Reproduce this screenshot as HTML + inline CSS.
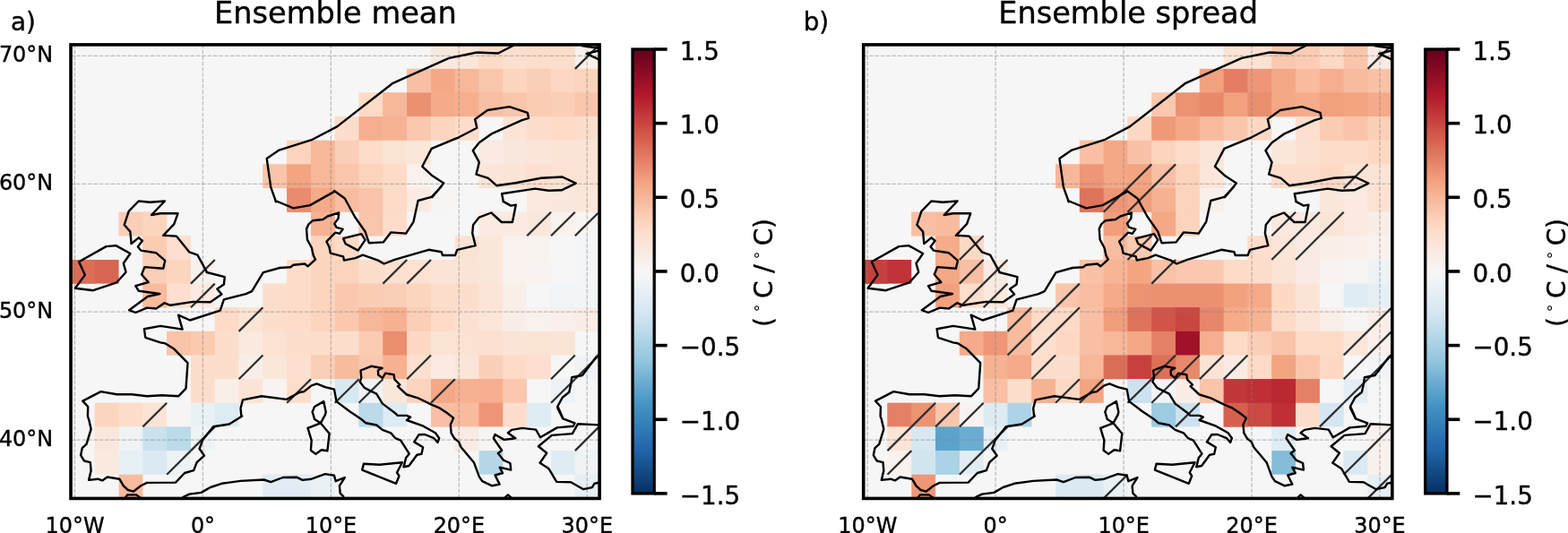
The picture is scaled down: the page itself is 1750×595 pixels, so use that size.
<!DOCTYPE html>
<html lang="en"><head><meta charset="utf-8"><title>Ensemble mean and spread</title>
<style>html,body{margin:0;padding:0;background:#fff}body{width:1750px;height:595px;overflow:hidden}svg{display:block}text{font-family:"DejaVu Sans","Liberation Sans",sans-serif;fill:#000;stroke:#000;stroke-width:0.4px;stroke-linejoin:round}</style>
</head><body>
<svg width="1750" height="595" viewBox="0 0 1750 595">
<rect width="1750" height="595" fill="#fff"/>
<defs>
<linearGradient id="cb" x1="0" y1="0" x2="0" y2="1"><stop offset="0.0000" stop-color="#67001f"/><stop offset="0.0156" stop-color="#700320"/><stop offset="0.0312" stop-color="#7c0722"/><stop offset="0.0469" stop-color="#870a24"/><stop offset="0.0625" stop-color="#930e26"/><stop offset="0.0781" stop-color="#9f1228"/><stop offset="0.0938" stop-color="#ab162a"/><stop offset="0.1094" stop-color="#b41c2d"/><stop offset="0.1250" stop-color="#ba2832"/><stop offset="0.1406" stop-color="#bf3338"/><stop offset="0.1562" stop-color="#c53e3d"/><stop offset="0.1719" stop-color="#cb4942"/><stop offset="0.1875" stop-color="#d05548"/><stop offset="0.2031" stop-color="#d6604d"/><stop offset="0.2188" stop-color="#db6b55"/><stop offset="0.2344" stop-color="#df765e"/><stop offset="0.2500" stop-color="#e48066"/><stop offset="0.2656" stop-color="#e98b6e"/><stop offset="0.2812" stop-color="#ee9677"/><stop offset="0.2969" stop-color="#f2a17f"/><stop offset="0.3125" stop-color="#f5aa89"/><stop offset="0.3281" stop-color="#f6b394"/><stop offset="0.3438" stop-color="#f8bb9e"/><stop offset="0.3594" stop-color="#f9c4a9"/><stop offset="0.3750" stop-color="#fbccb4"/><stop offset="0.3906" stop-color="#fcd5bf"/><stop offset="0.4062" stop-color="#fddcc9"/><stop offset="0.4219" stop-color="#fce0d0"/><stop offset="0.4375" stop-color="#fbe5d8"/><stop offset="0.4531" stop-color="#fae9df"/><stop offset="0.4688" stop-color="#f9eee7"/><stop offset="0.4844" stop-color="#f8f2ef"/><stop offset="0.5000" stop-color="#f7f6f6"/><stop offset="0.5156" stop-color="#f2f5f6"/><stop offset="0.5312" stop-color="#ecf2f5"/><stop offset="0.5469" stop-color="#e6eff4"/><stop offset="0.5625" stop-color="#e0ecf3"/><stop offset="0.5781" stop-color="#dae9f2"/><stop offset="0.5938" stop-color="#d4e6f1"/><stop offset="0.6094" stop-color="#cce2ef"/><stop offset="0.6250" stop-color="#c2ddec"/><stop offset="0.6406" stop-color="#b8d8e9"/><stop offset="0.6562" stop-color="#aed3e6"/><stop offset="0.6719" stop-color="#a5cee3"/><stop offset="0.6875" stop-color="#9bc9e0"/><stop offset="0.7031" stop-color="#90c4dd"/><stop offset="0.7188" stop-color="#84bcd9"/><stop offset="0.7344" stop-color="#78b4d5"/><stop offset="0.7500" stop-color="#6bacd1"/><stop offset="0.7656" stop-color="#5fa5cd"/><stop offset="0.7812" stop-color="#529dc8"/><stop offset="0.7969" stop-color="#4695c4"/><stop offset="0.8125" stop-color="#3f8ec0"/><stop offset="0.8281" stop-color="#3a87bd"/><stop offset="0.8438" stop-color="#3480b9"/><stop offset="0.8594" stop-color="#2f79b5"/><stop offset="0.8750" stop-color="#2a71b2"/><stop offset="0.8906" stop-color="#246aae"/><stop offset="0.9062" stop-color="#1f63a8"/><stop offset="0.9219" stop-color="#1b5a9c"/><stop offset="0.9375" stop-color="#175290"/><stop offset="0.9531" stop-color="#124984"/><stop offset="0.9688" stop-color="#0e4179"/><stop offset="0.9844" stop-color="#09386d"/><stop offset="1.0000" stop-color="#053061"/></linearGradient>
<clipPath id="clip"><rect x="79.00" y="49.90" width="590.10" height="506.55"/></clipPath>
</defs>
<g transform="translate(0.0,0)">
<rect x="79.00" y="49.90" width="590.10" height="506.55" fill="#f6f6f6"/>
<g clip-path="url(#clip)">
<g>
<rect x="481.00" y="50.25" width="27.50" height="27.34" fill="#fae9df"/>
<rect x="507.80" y="50.25" width="27.50" height="27.34" fill="#fbe6da"/>
<rect x="534.60" y="50.25" width="27.50" height="27.34" fill="#fddbc7"/>
<rect x="561.40" y="50.25" width="27.50" height="27.34" fill="#fcdfcf"/>
<rect x="588.20" y="50.25" width="27.50" height="27.34" fill="#fdddcb"/>
<rect x="615.00" y="50.25" width="27.50" height="27.34" fill="#fdddcb"/>
<rect x="641.80" y="50.25" width="26.80" height="27.34" fill="#f9f0eb"/>
<rect x="454.20" y="76.89" width="27.50" height="27.34" fill="#f8bfa4"/>
<rect x="481.00" y="76.89" width="27.50" height="27.34" fill="#f5a886"/>
<rect x="507.80" y="76.89" width="27.50" height="27.34" fill="#f7b799"/>
<rect x="534.60" y="76.89" width="27.50" height="27.34" fill="#f9c6ac"/>
<rect x="561.40" y="76.89" width="27.50" height="27.34" fill="#fcd5bf"/>
<rect x="588.20" y="76.89" width="27.50" height="27.34" fill="#fbceb7"/>
<rect x="615.00" y="76.89" width="27.50" height="27.34" fill="#fcd7c2"/>
<rect x="641.80" y="76.89" width="26.80" height="27.34" fill="#fcd3bc"/>
<rect x="400.60" y="103.52" width="27.50" height="27.34" fill="#fddbc7"/>
<rect x="427.40" y="103.52" width="27.50" height="27.34" fill="#f7b799"/>
<rect x="454.20" y="103.52" width="27.50" height="27.34" fill="#eb9172"/>
<rect x="481.00" y="103.52" width="27.50" height="27.34" fill="#f5aa89"/>
<rect x="507.80" y="103.52" width="27.50" height="27.34" fill="#f6af8e"/>
<rect x="534.60" y="103.52" width="27.50" height="26.64" fill="#f8bfa4"/>
<rect x="561.40" y="103.52" width="27.50" height="27.34" fill="#f9c6ac"/>
<rect x="588.20" y="103.52" width="27.50" height="27.34" fill="#fbccb4"/>
<rect x="615.00" y="103.52" width="27.50" height="27.34" fill="#fbceb7"/>
<rect x="641.80" y="103.52" width="26.80" height="27.34" fill="#f9c6ac"/>
<rect x="373.80" y="130.16" width="27.50" height="27.34" fill="#fdddcb"/>
<rect x="400.60" y="130.16" width="27.50" height="27.34" fill="#f6af8e"/>
<rect x="427.40" y="130.16" width="27.50" height="27.34" fill="#f6b394"/>
<rect x="454.20" y="130.16" width="27.50" height="27.34" fill="#fac8af"/>
<rect x="481.00" y="130.16" width="27.50" height="26.64" fill="#fcd5bf"/>
<rect x="561.40" y="130.16" width="27.50" height="27.34" fill="#fbe4d6"/>
<rect x="588.20" y="130.16" width="27.50" height="27.34" fill="#fdddcb"/>
<rect x="615.00" y="130.16" width="27.50" height="27.34" fill="#fddbc7"/>
<rect x="641.80" y="130.16" width="26.80" height="27.34" fill="#fcdecd"/>
<rect x="320.20" y="156.80" width="27.50" height="27.34" fill="#fcd3bc"/>
<rect x="347.00" y="156.80" width="27.50" height="27.34" fill="#f7b799"/>
<rect x="373.80" y="156.80" width="27.50" height="27.34" fill="#fbceb7"/>
<rect x="400.60" y="156.80" width="27.50" height="27.34" fill="#fddcc9"/>
<rect x="427.40" y="156.80" width="27.50" height="27.34" fill="#fbe3d4"/>
<rect x="454.20" y="156.80" width="26.80" height="27.34" fill="#fbe6da"/>
<rect x="534.60" y="156.80" width="27.50" height="27.34" fill="#faeae1"/>
<rect x="561.40" y="156.80" width="27.50" height="27.34" fill="#fae8de"/>
<rect x="588.20" y="156.80" width="27.50" height="27.34" fill="#fbe5d8"/>
<rect x="615.00" y="156.80" width="27.50" height="27.34" fill="#fbe4d6"/>
<rect x="641.80" y="156.80" width="26.80" height="27.34" fill="#fbe4d6"/>
<rect x="293.40" y="183.44" width="27.50" height="26.64" fill="#f9c4a9"/>
<rect x="320.20" y="183.44" width="27.50" height="27.34" fill="#f3a481"/>
<rect x="347.00" y="183.44" width="27.50" height="27.34" fill="#f7b799"/>
<rect x="373.80" y="183.44" width="27.50" height="27.34" fill="#f9c6ac"/>
<rect x="400.60" y="183.44" width="27.50" height="27.34" fill="#fcd3bc"/>
<rect x="427.40" y="183.44" width="27.50" height="27.34" fill="#fddbc7"/>
<rect x="454.20" y="183.44" width="26.80" height="27.34" fill="#f8f1ed"/>
<rect x="534.60" y="183.44" width="27.50" height="26.64" fill="#fbe5d8"/>
<rect x="561.40" y="183.44" width="27.50" height="26.64" fill="#fbe4d6"/>
<rect x="588.20" y="183.44" width="27.50" height="27.34" fill="#fcdfcf"/>
<rect x="615.00" y="183.44" width="27.50" height="27.34" fill="#fce2d2"/>
<rect x="641.80" y="183.44" width="26.80" height="27.34" fill="#fbe4d6"/>
<rect x="320.20" y="210.07" width="27.50" height="26.64" fill="#e98b6e"/>
<rect x="347.00" y="210.07" width="27.50" height="27.34" fill="#f5aa89"/>
<rect x="373.80" y="210.07" width="27.50" height="26.64" fill="#f8bda1"/>
<rect x="400.60" y="210.07" width="27.50" height="27.34" fill="#f9c4a9"/>
<rect x="427.40" y="210.07" width="27.50" height="27.34" fill="#fddbc7"/>
<rect x="454.20" y="210.07" width="27.50" height="27.34" fill="#faeae1"/>
<rect x="588.20" y="210.07" width="27.50" height="27.34" fill="#fae9df"/>
<rect x="615.00" y="210.07" width="27.50" height="27.34" fill="#fae8de"/>
<rect x="641.80" y="210.07" width="26.80" height="27.34" fill="#fbe6da"/>
<rect x="132.60" y="236.71" width="27.50" height="26.64" fill="#fbceb7"/>
<rect x="159.40" y="236.71" width="26.80" height="27.34" fill="#fcd5bf"/>
<rect x="347.00" y="236.71" width="26.80" height="27.34" fill="#f6b394"/>
<rect x="400.60" y="236.71" width="27.50" height="26.64" fill="#f9c6ac"/>
<rect x="427.40" y="236.71" width="27.50" height="26.64" fill="#fddcc9"/>
<rect x="534.60" y="236.71" width="27.50" height="27.34" fill="#faeae1"/>
<rect x="561.40" y="236.71" width="27.50" height="27.34" fill="#faeae1"/>
<rect x="588.20" y="236.71" width="27.50" height="27.34" fill="#fae7dc"/>
<rect x="615.00" y="236.71" width="27.50" height="27.34" fill="#f8f2ef"/>
<rect x="641.80" y="236.71" width="26.80" height="27.34" fill="#f7f5f4"/>
<rect x="159.40" y="263.35" width="27.50" height="27.34" fill="#fbccb4"/>
<rect x="186.20" y="263.35" width="26.80" height="27.34" fill="#fcdfcf"/>
<rect x="347.00" y="263.35" width="27.50" height="27.34" fill="#fcd5bf"/>
<rect x="373.80" y="263.35" width="26.80" height="27.34" fill="#fddbc7"/>
<rect x="507.80" y="263.35" width="27.50" height="27.34" fill="#fbe3d4"/>
<rect x="534.60" y="263.35" width="27.50" height="27.34" fill="#fae7dc"/>
<rect x="561.40" y="263.35" width="27.50" height="27.34" fill="#f8f1ed"/>
<rect x="588.20" y="263.35" width="27.50" height="27.34" fill="#f8f2ef"/>
<rect x="615.00" y="263.35" width="27.50" height="27.34" fill="#f7f6f6"/>
<rect x="641.80" y="263.35" width="26.80" height="27.34" fill="#f3f5f6"/>
<rect x="79.00" y="289.98" width="27.50" height="26.64" fill="#dc6e57"/>
<rect x="159.40" y="289.98" width="27.50" height="27.34" fill="#fbceb7"/>
<rect x="186.20" y="289.98" width="27.50" height="27.34" fill="#fcd5bf"/>
<rect x="213.00" y="289.98" width="26.80" height="27.34" fill="#f8f2ef"/>
<rect x="320.20" y="289.98" width="27.50" height="27.34" fill="#fddcc9"/>
<rect x="347.00" y="289.98" width="27.50" height="27.34" fill="#fcd5bf"/>
<rect x="373.80" y="289.98" width="27.50" height="27.34" fill="#fcd3bc"/>
<rect x="400.60" y="289.98" width="27.50" height="27.34" fill="#fcdecd"/>
<rect x="427.40" y="289.98" width="27.50" height="27.34" fill="#fce0d0"/>
<rect x="454.20" y="289.98" width="27.50" height="27.34" fill="#fce2d2"/>
<rect x="481.00" y="289.98" width="27.50" height="27.34" fill="#fbe4d6"/>
<rect x="507.80" y="289.98" width="27.50" height="27.34" fill="#fbe4d6"/>
<rect x="534.60" y="289.98" width="27.50" height="27.34" fill="#fae7dc"/>
<rect x="561.40" y="289.98" width="27.50" height="27.34" fill="#f8f1ed"/>
<rect x="588.20" y="289.98" width="27.50" height="27.34" fill="#f8f3f0"/>
<rect x="615.00" y="289.98" width="27.50" height="27.34" fill="#f7f6f6"/>
<rect x="641.80" y="289.98" width="26.80" height="27.34" fill="#f3f5f6"/>
<rect x="159.40" y="316.62" width="27.50" height="26.64" fill="#f8bb9e"/>
<rect x="186.20" y="316.62" width="27.50" height="26.64" fill="#fcdfcf"/>
<rect x="293.40" y="316.62" width="27.50" height="27.34" fill="#fcdecd"/>
<rect x="320.20" y="316.62" width="27.50" height="27.34" fill="#fddcc9"/>
<rect x="347.00" y="316.62" width="27.50" height="27.34" fill="#fcd5bf"/>
<rect x="373.80" y="316.62" width="27.50" height="27.34" fill="#fac8af"/>
<rect x="400.60" y="316.62" width="27.50" height="27.34" fill="#fbccb4"/>
<rect x="427.40" y="316.62" width="27.50" height="27.34" fill="#fbceb7"/>
<rect x="454.20" y="316.62" width="27.50" height="27.34" fill="#fcd5bf"/>
<rect x="481.00" y="316.62" width="27.50" height="27.34" fill="#fdddcb"/>
<rect x="507.80" y="316.62" width="27.50" height="27.34" fill="#fcdecd"/>
<rect x="534.60" y="316.62" width="27.50" height="27.34" fill="#fbe5d8"/>
<rect x="561.40" y="316.62" width="27.50" height="27.34" fill="#f9efe9"/>
<rect x="588.20" y="316.62" width="27.50" height="27.34" fill="#f7f6f6"/>
<rect x="615.00" y="316.62" width="27.50" height="27.34" fill="#f0f4f6"/>
<rect x="641.80" y="316.62" width="26.80" height="27.34" fill="#f2f5f6"/>
<rect x="239.80" y="343.26" width="27.50" height="27.34" fill="#fddbc7"/>
<rect x="266.60" y="343.26" width="27.50" height="27.34" fill="#fbe4d6"/>
<rect x="293.40" y="343.26" width="27.50" height="27.34" fill="#fcdecd"/>
<rect x="320.20" y="343.26" width="27.50" height="27.34" fill="#fddcc9"/>
<rect x="347.00" y="343.26" width="27.50" height="27.34" fill="#fcd5bf"/>
<rect x="373.80" y="343.26" width="27.50" height="27.34" fill="#fac8af"/>
<rect x="400.60" y="343.26" width="27.50" height="27.34" fill="#f7b799"/>
<rect x="427.40" y="343.26" width="27.50" height="27.34" fill="#f6b191"/>
<rect x="454.20" y="343.26" width="27.50" height="27.34" fill="#fbceb7"/>
<rect x="481.00" y="343.26" width="27.50" height="27.34" fill="#fddbc7"/>
<rect x="507.80" y="343.26" width="27.50" height="27.34" fill="#fce0d0"/>
<rect x="534.60" y="343.26" width="27.50" height="27.34" fill="#fbe6da"/>
<rect x="561.40" y="343.26" width="27.50" height="27.34" fill="#f9eee7"/>
<rect x="588.20" y="343.26" width="27.50" height="27.34" fill="#f8f1ed"/>
<rect x="615.00" y="343.26" width="27.50" height="27.34" fill="#f9f0eb"/>
<rect x="186.20" y="369.89" width="27.50" height="26.64" fill="#f9c4a9"/>
<rect x="213.00" y="369.89" width="27.50" height="27.34" fill="#facab1"/>
<rect x="239.80" y="369.89" width="27.50" height="27.34" fill="#fcdecd"/>
<rect x="266.60" y="369.89" width="27.50" height="27.34" fill="#fae9df"/>
<rect x="293.40" y="369.89" width="27.50" height="27.34" fill="#fce2d2"/>
<rect x="320.20" y="369.89" width="27.50" height="27.34" fill="#fcdecd"/>
<rect x="347.00" y="369.89" width="27.50" height="27.34" fill="#fdddcb"/>
<rect x="373.80" y="369.89" width="27.50" height="27.34" fill="#fcdecd"/>
<rect x="400.60" y="369.89" width="27.50" height="27.34" fill="#fbccb4"/>
<rect x="427.40" y="369.89" width="27.50" height="27.34" fill="#ea8e70"/>
<rect x="454.20" y="369.89" width="27.50" height="27.34" fill="#fdd9c4"/>
<rect x="481.00" y="369.89" width="27.50" height="27.34" fill="#fbe3d4"/>
<rect x="507.80" y="369.89" width="27.50" height="27.34" fill="#fce2d2"/>
<rect x="534.60" y="369.89" width="27.50" height="27.34" fill="#fce0d0"/>
<rect x="561.40" y="369.89" width="27.50" height="27.34" fill="#fbe4d6"/>
<rect x="588.20" y="369.89" width="27.50" height="27.34" fill="#fbe3d4"/>
<rect x="615.00" y="369.89" width="26.80" height="27.34" fill="#fbe4d6"/>
<rect x="213.00" y="396.53" width="27.50" height="27.34" fill="#fdddcb"/>
<rect x="239.80" y="396.53" width="27.50" height="27.34" fill="#fcdecd"/>
<rect x="266.60" y="396.53" width="27.50" height="27.34" fill="#f9eee7"/>
<rect x="293.40" y="396.53" width="27.50" height="27.34" fill="#fbe6da"/>
<rect x="320.20" y="396.53" width="27.50" height="27.34" fill="#fcdfcf"/>
<rect x="347.00" y="396.53" width="27.50" height="26.64" fill="#fbceb7"/>
<rect x="373.80" y="396.53" width="27.50" height="27.34" fill="#f8bb9e"/>
<rect x="400.60" y="396.53" width="27.50" height="27.34" fill="#fac8af"/>
<rect x="427.40" y="396.53" width="27.50" height="27.34" fill="#f6b191"/>
<rect x="454.20" y="396.53" width="27.50" height="27.34" fill="#fcdfcf"/>
<rect x="481.00" y="396.53" width="27.50" height="27.34" fill="#faeae1"/>
<rect x="507.80" y="396.53" width="27.50" height="27.34" fill="#fbe5d8"/>
<rect x="534.60" y="396.53" width="27.50" height="27.34" fill="#fbd0b9"/>
<rect x="561.40" y="396.53" width="27.50" height="27.34" fill="#fddbc7"/>
<rect x="588.20" y="396.53" width="27.50" height="27.34" fill="#fcdfcf"/>
<rect x="615.00" y="396.53" width="27.50" height="27.34" fill="#f7f6f6"/>
<rect x="213.00" y="423.17" width="27.50" height="27.34" fill="#fdddcb"/>
<rect x="239.80" y="423.17" width="27.50" height="27.34" fill="#f9efe9"/>
<rect x="266.60" y="423.17" width="27.50" height="26.64" fill="#fbe4d6"/>
<rect x="293.40" y="423.17" width="27.50" height="26.64" fill="#f8f3f0"/>
<rect x="373.80" y="423.17" width="27.50" height="26.64" fill="#d7e8f1"/>
<rect x="400.60" y="423.17" width="27.50" height="27.34" fill="#eff3f5"/>
<rect x="427.40" y="423.17" width="27.50" height="27.34" fill="#fae7dc"/>
<rect x="454.20" y="423.17" width="27.50" height="26.64" fill="#fcd3bc"/>
<rect x="481.00" y="423.17" width="27.50" height="27.34" fill="#f5a886"/>
<rect x="507.80" y="423.17" width="27.50" height="27.34" fill="#f6b191"/>
<rect x="534.60" y="423.17" width="27.50" height="27.34" fill="#f6af8e"/>
<rect x="561.40" y="423.17" width="27.50" height="27.34" fill="#fac8af"/>
<rect x="588.20" y="423.17" width="27.50" height="27.34" fill="#f7f6f6"/>
<rect x="105.80" y="449.81" width="27.50" height="27.34" fill="#fcd5bf"/>
<rect x="132.60" y="449.81" width="27.50" height="27.34" fill="#fdddcb"/>
<rect x="159.40" y="449.81" width="27.50" height="27.34" fill="#fbe4d6"/>
<rect x="186.20" y="449.81" width="27.50" height="27.34" fill="#f7f5f4"/>
<rect x="213.00" y="449.81" width="27.50" height="27.34" fill="#eaf1f5"/>
<rect x="400.60" y="449.81" width="27.50" height="26.64" fill="#bbdaea"/>
<rect x="481.00" y="449.81" width="27.50" height="26.64" fill="#f8bfa4"/>
<rect x="507.80" y="449.81" width="27.50" height="27.34" fill="#f8bb9e"/>
<rect x="534.60" y="449.81" width="27.50" height="27.34" fill="#ee9677"/>
<rect x="561.40" y="449.81" width="27.50" height="26.64" fill="#fdddcb"/>
<rect x="105.80" y="476.44" width="27.50" height="27.34" fill="#fae7dc"/>
<rect x="132.60" y="476.44" width="27.50" height="27.34" fill="#eff3f5"/>
<rect x="159.40" y="476.44" width="27.50" height="27.34" fill="#cae1ee"/>
<rect x="186.20" y="476.44" width="27.50" height="27.34" fill="#bbdaea"/>
<rect x="507.80" y="476.44" width="27.50" height="26.64" fill="#f9ebe3"/>
<rect x="534.60" y="476.44" width="26.80" height="27.34" fill="#f8f4f2"/>
<rect x="105.80" y="503.08" width="27.50" height="26.64" fill="#fae9df"/>
<rect x="132.60" y="503.08" width="27.50" height="27.34" fill="#e7f0f4"/>
<rect x="159.40" y="503.08" width="27.50" height="26.64" fill="#dae9f2"/>
<rect x="615.00" y="503.08" width="27.50" height="26.64" fill="#e0ecf3"/>
<rect x="641.80" y="503.08" width="26.80" height="27.34" fill="#eff3f5"/>
<rect x="293.40" y="529.72" width="27.50" height="26.64" fill="#e1edf3"/>
<rect x="320.20" y="529.72" width="27.50" height="26.64" fill="#e1edf3"/>
<rect x="481.00" y="50.25" width="26.80" height="26.64" fill="#fae9df"/>
<rect x="507.80" y="50.25" width="26.80" height="26.64" fill="#fbe6da"/>
<rect x="534.60" y="50.25" width="26.80" height="26.64" fill="#fddbc7"/>
<rect x="561.40" y="50.25" width="26.80" height="26.64" fill="#fcdfcf"/>
<rect x="588.20" y="50.25" width="26.80" height="26.64" fill="#fdddcb"/>
<rect x="615.00" y="50.25" width="26.80" height="26.64" fill="#fdddcb"/>
<rect x="641.80" y="50.25" width="26.80" height="26.64" fill="#f9f0eb"/>
<rect x="454.20" y="76.89" width="26.80" height="26.64" fill="#f8bfa4"/>
<rect x="481.00" y="76.89" width="26.80" height="26.64" fill="#f5a886"/>
<rect x="507.80" y="76.89" width="26.80" height="26.64" fill="#f7b799"/>
<rect x="534.60" y="76.89" width="26.80" height="26.64" fill="#f9c6ac"/>
<rect x="561.40" y="76.89" width="26.80" height="26.64" fill="#fcd5bf"/>
<rect x="588.20" y="76.89" width="26.80" height="26.64" fill="#fbceb7"/>
<rect x="615.00" y="76.89" width="26.80" height="26.64" fill="#fcd7c2"/>
<rect x="641.80" y="76.89" width="26.80" height="26.64" fill="#fcd3bc"/>
<rect x="400.60" y="103.52" width="26.80" height="26.64" fill="#fddbc7"/>
<rect x="427.40" y="103.52" width="26.80" height="26.64" fill="#f7b799"/>
<rect x="454.20" y="103.52" width="26.80" height="26.64" fill="#eb9172"/>
<rect x="481.00" y="103.52" width="26.80" height="26.64" fill="#f5aa89"/>
<rect x="507.80" y="103.52" width="26.80" height="26.64" fill="#f6af8e"/>
<rect x="534.60" y="103.52" width="26.80" height="26.64" fill="#f8bfa4"/>
<rect x="561.40" y="103.52" width="26.80" height="26.64" fill="#f9c6ac"/>
<rect x="588.20" y="103.52" width="26.80" height="26.64" fill="#fbccb4"/>
<rect x="615.00" y="103.52" width="26.80" height="26.64" fill="#fbceb7"/>
<rect x="641.80" y="103.52" width="26.80" height="26.64" fill="#f9c6ac"/>
<rect x="373.80" y="130.16" width="26.80" height="26.64" fill="#fdddcb"/>
<rect x="400.60" y="130.16" width="26.80" height="26.64" fill="#f6af8e"/>
<rect x="427.40" y="130.16" width="26.80" height="26.64" fill="#f6b394"/>
<rect x="454.20" y="130.16" width="26.80" height="26.64" fill="#fac8af"/>
<rect x="481.00" y="130.16" width="26.80" height="26.64" fill="#fcd5bf"/>
<rect x="507.80" y="130.16" width="26.80" height="26.64" fill="#fdddcb"/>
<rect x="561.40" y="130.16" width="26.80" height="26.64" fill="#fbe4d6"/>
<rect x="588.20" y="130.16" width="26.80" height="26.64" fill="#fdddcb"/>
<rect x="615.00" y="130.16" width="26.80" height="26.64" fill="#fddbc7"/>
<rect x="641.80" y="130.16" width="26.80" height="26.64" fill="#fcdecd"/>
<rect x="320.20" y="156.80" width="26.80" height="26.64" fill="#fcd3bc"/>
<rect x="347.00" y="156.80" width="26.80" height="26.64" fill="#f7b799"/>
<rect x="373.80" y="156.80" width="26.80" height="26.64" fill="#fbceb7"/>
<rect x="400.60" y="156.80" width="26.80" height="26.64" fill="#fddcc9"/>
<rect x="427.40" y="156.80" width="26.80" height="26.64" fill="#fbe3d4"/>
<rect x="454.20" y="156.80" width="26.80" height="26.64" fill="#fbe6da"/>
<rect x="534.60" y="156.80" width="26.80" height="26.64" fill="#faeae1"/>
<rect x="561.40" y="156.80" width="26.80" height="26.64" fill="#fae8de"/>
<rect x="588.20" y="156.80" width="26.80" height="26.64" fill="#fbe5d8"/>
<rect x="615.00" y="156.80" width="26.80" height="26.64" fill="#fbe4d6"/>
<rect x="641.80" y="156.80" width="26.80" height="26.64" fill="#fbe4d6"/>
<rect x="293.40" y="183.44" width="26.80" height="26.64" fill="#f9c4a9"/>
<rect x="320.20" y="183.44" width="26.80" height="26.64" fill="#f3a481"/>
<rect x="347.00" y="183.44" width="26.80" height="26.64" fill="#f7b799"/>
<rect x="373.80" y="183.44" width="26.80" height="26.64" fill="#f9c6ac"/>
<rect x="400.60" y="183.44" width="26.80" height="26.64" fill="#fcd3bc"/>
<rect x="427.40" y="183.44" width="26.80" height="26.64" fill="#fddbc7"/>
<rect x="454.20" y="183.44" width="26.80" height="26.64" fill="#f8f1ed"/>
<rect x="534.60" y="183.44" width="26.80" height="26.64" fill="#fbe5d8"/>
<rect x="561.40" y="183.44" width="26.80" height="26.64" fill="#fbe4d6"/>
<rect x="588.20" y="183.44" width="26.80" height="26.64" fill="#fcdfcf"/>
<rect x="615.00" y="183.44" width="26.80" height="26.64" fill="#fce2d2"/>
<rect x="641.80" y="183.44" width="26.80" height="26.64" fill="#fbe4d6"/>
<rect x="320.20" y="210.07" width="26.80" height="26.64" fill="#e98b6e"/>
<rect x="347.00" y="210.07" width="26.80" height="26.64" fill="#f5aa89"/>
<rect x="373.80" y="210.07" width="26.80" height="26.64" fill="#f8bda1"/>
<rect x="400.60" y="210.07" width="26.80" height="26.64" fill="#f9c4a9"/>
<rect x="427.40" y="210.07" width="26.80" height="26.64" fill="#fddbc7"/>
<rect x="454.20" y="210.07" width="26.80" height="26.64" fill="#faeae1"/>
<rect x="481.00" y="210.07" width="26.80" height="26.64" fill="#f7f5f4"/>
<rect x="588.20" y="210.07" width="26.80" height="26.64" fill="#fae9df"/>
<rect x="615.00" y="210.07" width="26.80" height="26.64" fill="#fae8de"/>
<rect x="641.80" y="210.07" width="26.80" height="26.64" fill="#fbe6da"/>
<rect x="132.60" y="236.71" width="26.80" height="26.64" fill="#fbceb7"/>
<rect x="159.40" y="236.71" width="26.80" height="26.64" fill="#fcd5bf"/>
<rect x="347.00" y="236.71" width="26.80" height="26.64" fill="#f6b394"/>
<rect x="400.60" y="236.71" width="26.80" height="26.64" fill="#f9c6ac"/>
<rect x="427.40" y="236.71" width="26.80" height="26.64" fill="#fddcc9"/>
<rect x="454.20" y="236.71" width="26.80" height="26.64" fill="#f7f6f6"/>
<rect x="534.60" y="236.71" width="26.80" height="26.64" fill="#faeae1"/>
<rect x="561.40" y="236.71" width="26.80" height="26.64" fill="#faeae1"/>
<rect x="588.20" y="236.71" width="26.80" height="26.64" fill="#fae7dc"/>
<rect x="615.00" y="236.71" width="26.80" height="26.64" fill="#f8f2ef"/>
<rect x="641.80" y="236.71" width="26.80" height="26.64" fill="#f7f5f4"/>
<rect x="159.40" y="263.35" width="26.80" height="26.64" fill="#fbccb4"/>
<rect x="186.20" y="263.35" width="26.80" height="26.64" fill="#fcdfcf"/>
<rect x="347.00" y="263.35" width="26.80" height="26.64" fill="#fcd5bf"/>
<rect x="373.80" y="263.35" width="26.80" height="26.64" fill="#fddbc7"/>
<rect x="507.80" y="263.35" width="26.80" height="26.64" fill="#fbe3d4"/>
<rect x="534.60" y="263.35" width="26.80" height="26.64" fill="#fae7dc"/>
<rect x="561.40" y="263.35" width="26.80" height="26.64" fill="#f8f1ed"/>
<rect x="588.20" y="263.35" width="26.80" height="26.64" fill="#f8f2ef"/>
<rect x="615.00" y="263.35" width="26.80" height="26.64" fill="#f7f6f6"/>
<rect x="641.80" y="263.35" width="26.80" height="26.64" fill="#f3f5f6"/>
<rect x="79.00" y="289.98" width="26.80" height="26.64" fill="#dc6e57"/>
<rect x="105.80" y="289.98" width="26.80" height="26.64" fill="#d86551"/>
<rect x="159.40" y="289.98" width="26.80" height="26.64" fill="#fbceb7"/>
<rect x="186.20" y="289.98" width="26.80" height="26.64" fill="#fcd5bf"/>
<rect x="213.00" y="289.98" width="26.80" height="26.64" fill="#f8f2ef"/>
<rect x="320.20" y="289.98" width="26.80" height="26.64" fill="#fddcc9"/>
<rect x="347.00" y="289.98" width="26.80" height="26.64" fill="#fcd5bf"/>
<rect x="373.80" y="289.98" width="26.80" height="26.64" fill="#fcd3bc"/>
<rect x="400.60" y="289.98" width="26.80" height="26.64" fill="#fcdecd"/>
<rect x="427.40" y="289.98" width="26.80" height="26.64" fill="#fce0d0"/>
<rect x="454.20" y="289.98" width="26.80" height="26.64" fill="#fce2d2"/>
<rect x="481.00" y="289.98" width="26.80" height="26.64" fill="#fbe4d6"/>
<rect x="507.80" y="289.98" width="26.80" height="26.64" fill="#fbe4d6"/>
<rect x="534.60" y="289.98" width="26.80" height="26.64" fill="#fae7dc"/>
<rect x="561.40" y="289.98" width="26.80" height="26.64" fill="#f8f1ed"/>
<rect x="588.20" y="289.98" width="26.80" height="26.64" fill="#f8f3f0"/>
<rect x="615.00" y="289.98" width="26.80" height="26.64" fill="#f7f6f6"/>
<rect x="641.80" y="289.98" width="26.80" height="26.64" fill="#f3f5f6"/>
<rect x="159.40" y="316.62" width="26.80" height="26.64" fill="#f8bb9e"/>
<rect x="186.20" y="316.62" width="26.80" height="26.64" fill="#fcdfcf"/>
<rect x="213.00" y="316.62" width="26.80" height="26.64" fill="#faeae1"/>
<rect x="293.40" y="316.62" width="26.80" height="26.64" fill="#fcdecd"/>
<rect x="320.20" y="316.62" width="26.80" height="26.64" fill="#fddcc9"/>
<rect x="347.00" y="316.62" width="26.80" height="26.64" fill="#fcd5bf"/>
<rect x="373.80" y="316.62" width="26.80" height="26.64" fill="#fac8af"/>
<rect x="400.60" y="316.62" width="26.80" height="26.64" fill="#fbccb4"/>
<rect x="427.40" y="316.62" width="26.80" height="26.64" fill="#fbceb7"/>
<rect x="454.20" y="316.62" width="26.80" height="26.64" fill="#fcd5bf"/>
<rect x="481.00" y="316.62" width="26.80" height="26.64" fill="#fdddcb"/>
<rect x="507.80" y="316.62" width="26.80" height="26.64" fill="#fcdecd"/>
<rect x="534.60" y="316.62" width="26.80" height="26.64" fill="#fbe5d8"/>
<rect x="561.40" y="316.62" width="26.80" height="26.64" fill="#f9efe9"/>
<rect x="588.20" y="316.62" width="26.80" height="26.64" fill="#f7f6f6"/>
<rect x="615.00" y="316.62" width="26.80" height="26.64" fill="#f0f4f6"/>
<rect x="641.80" y="316.62" width="26.80" height="26.64" fill="#f2f5f6"/>
<rect x="239.80" y="343.26" width="26.80" height="26.64" fill="#fddbc7"/>
<rect x="266.60" y="343.26" width="26.80" height="26.64" fill="#fbe4d6"/>
<rect x="293.40" y="343.26" width="26.80" height="26.64" fill="#fcdecd"/>
<rect x="320.20" y="343.26" width="26.80" height="26.64" fill="#fddcc9"/>
<rect x="347.00" y="343.26" width="26.80" height="26.64" fill="#fcd5bf"/>
<rect x="373.80" y="343.26" width="26.80" height="26.64" fill="#fac8af"/>
<rect x="400.60" y="343.26" width="26.80" height="26.64" fill="#f7b799"/>
<rect x="427.40" y="343.26" width="26.80" height="26.64" fill="#f6b191"/>
<rect x="454.20" y="343.26" width="26.80" height="26.64" fill="#fbceb7"/>
<rect x="481.00" y="343.26" width="26.80" height="26.64" fill="#fddbc7"/>
<rect x="507.80" y="343.26" width="26.80" height="26.64" fill="#fce0d0"/>
<rect x="534.60" y="343.26" width="26.80" height="26.64" fill="#fbe6da"/>
<rect x="561.40" y="343.26" width="26.80" height="26.64" fill="#f9eee7"/>
<rect x="588.20" y="343.26" width="26.80" height="26.64" fill="#f8f1ed"/>
<rect x="615.00" y="343.26" width="26.80" height="26.64" fill="#f9f0eb"/>
<rect x="641.80" y="343.26" width="26.80" height="26.64" fill="#f9ede5"/>
<rect x="186.20" y="369.89" width="26.80" height="26.64" fill="#f9c4a9"/>
<rect x="213.00" y="369.89" width="26.80" height="26.64" fill="#facab1"/>
<rect x="239.80" y="369.89" width="26.80" height="26.64" fill="#fcdecd"/>
<rect x="266.60" y="369.89" width="26.80" height="26.64" fill="#fae9df"/>
<rect x="293.40" y="369.89" width="26.80" height="26.64" fill="#fce2d2"/>
<rect x="320.20" y="369.89" width="26.80" height="26.64" fill="#fcdecd"/>
<rect x="347.00" y="369.89" width="26.80" height="26.64" fill="#fdddcb"/>
<rect x="373.80" y="369.89" width="26.80" height="26.64" fill="#fcdecd"/>
<rect x="400.60" y="369.89" width="26.80" height="26.64" fill="#fbccb4"/>
<rect x="427.40" y="369.89" width="26.80" height="26.64" fill="#ea8e70"/>
<rect x="454.20" y="369.89" width="26.80" height="26.64" fill="#fdd9c4"/>
<rect x="481.00" y="369.89" width="26.80" height="26.64" fill="#fbe3d4"/>
<rect x="507.80" y="369.89" width="26.80" height="26.64" fill="#fce2d2"/>
<rect x="534.60" y="369.89" width="26.80" height="26.64" fill="#fce0d0"/>
<rect x="561.40" y="369.89" width="26.80" height="26.64" fill="#fbe4d6"/>
<rect x="588.20" y="369.89" width="26.80" height="26.64" fill="#fbe3d4"/>
<rect x="615.00" y="369.89" width="26.80" height="26.64" fill="#fbe4d6"/>
<rect x="213.00" y="396.53" width="26.80" height="26.64" fill="#fdddcb"/>
<rect x="239.80" y="396.53" width="26.80" height="26.64" fill="#fcdecd"/>
<rect x="266.60" y="396.53" width="26.80" height="26.64" fill="#f9eee7"/>
<rect x="293.40" y="396.53" width="26.80" height="26.64" fill="#fbe6da"/>
<rect x="320.20" y="396.53" width="26.80" height="26.64" fill="#fcdfcf"/>
<rect x="347.00" y="396.53" width="26.80" height="26.64" fill="#fbceb7"/>
<rect x="373.80" y="396.53" width="26.80" height="26.64" fill="#f8bb9e"/>
<rect x="400.60" y="396.53" width="26.80" height="26.64" fill="#fac8af"/>
<rect x="427.40" y="396.53" width="26.80" height="26.64" fill="#f6b191"/>
<rect x="454.20" y="396.53" width="26.80" height="26.64" fill="#fcdfcf"/>
<rect x="481.00" y="396.53" width="26.80" height="26.64" fill="#faeae1"/>
<rect x="507.80" y="396.53" width="26.80" height="26.64" fill="#fbe5d8"/>
<rect x="534.60" y="396.53" width="26.80" height="26.64" fill="#fbd0b9"/>
<rect x="561.40" y="396.53" width="26.80" height="26.64" fill="#fddbc7"/>
<rect x="588.20" y="396.53" width="26.80" height="26.64" fill="#fcdfcf"/>
<rect x="615.00" y="396.53" width="26.80" height="26.64" fill="#f7f6f6"/>
<rect x="641.80" y="396.53" width="26.80" height="26.64" fill="#eff3f5"/>
<rect x="213.00" y="423.17" width="26.80" height="26.64" fill="#fdddcb"/>
<rect x="239.80" y="423.17" width="26.80" height="26.64" fill="#f9efe9"/>
<rect x="266.60" y="423.17" width="26.80" height="26.64" fill="#fbe4d6"/>
<rect x="293.40" y="423.17" width="26.80" height="26.64" fill="#f8f3f0"/>
<rect x="320.20" y="423.17" width="26.80" height="26.64" fill="#fdddcb"/>
<rect x="373.80" y="423.17" width="26.80" height="26.64" fill="#d7e8f1"/>
<rect x="400.60" y="423.17" width="26.80" height="26.64" fill="#eff3f5"/>
<rect x="427.40" y="423.17" width="26.80" height="26.64" fill="#fae7dc"/>
<rect x="454.20" y="423.17" width="26.80" height="26.64" fill="#fcd3bc"/>
<rect x="481.00" y="423.17" width="26.80" height="26.64" fill="#f5a886"/>
<rect x="507.80" y="423.17" width="26.80" height="26.64" fill="#f6b191"/>
<rect x="534.60" y="423.17" width="26.80" height="26.64" fill="#f6af8e"/>
<rect x="561.40" y="423.17" width="26.80" height="26.64" fill="#fac8af"/>
<rect x="588.20" y="423.17" width="26.80" height="26.64" fill="#f7f6f6"/>
<rect x="615.00" y="423.17" width="26.80" height="26.64" fill="#ecf2f5"/>
<rect x="105.80" y="449.81" width="26.80" height="26.64" fill="#fcd5bf"/>
<rect x="132.60" y="449.81" width="26.80" height="26.64" fill="#fdddcb"/>
<rect x="159.40" y="449.81" width="26.80" height="26.64" fill="#fbe4d6"/>
<rect x="186.20" y="449.81" width="26.80" height="26.64" fill="#f7f5f4"/>
<rect x="213.00" y="449.81" width="26.80" height="26.64" fill="#eaf1f5"/>
<rect x="239.80" y="449.81" width="26.80" height="26.64" fill="#ddebf2"/>
<rect x="400.60" y="449.81" width="26.80" height="26.64" fill="#bbdaea"/>
<rect x="427.40" y="449.81" width="26.80" height="26.64" fill="#ddebf2"/>
<rect x="481.00" y="449.81" width="26.80" height="26.64" fill="#f8bfa4"/>
<rect x="507.80" y="449.81" width="26.80" height="26.64" fill="#f8bb9e"/>
<rect x="534.60" y="449.81" width="26.80" height="26.64" fill="#ee9677"/>
<rect x="561.40" y="449.81" width="26.80" height="26.64" fill="#fdddcb"/>
<rect x="588.20" y="449.81" width="26.80" height="26.64" fill="#e0ecf3"/>
<rect x="105.80" y="476.44" width="26.80" height="26.64" fill="#fae7dc"/>
<rect x="132.60" y="476.44" width="26.80" height="26.64" fill="#eff3f5"/>
<rect x="159.40" y="476.44" width="26.80" height="26.64" fill="#cae1ee"/>
<rect x="186.20" y="476.44" width="26.80" height="26.64" fill="#bbdaea"/>
<rect x="213.00" y="476.44" width="26.80" height="26.64" fill="#eff3f5"/>
<rect x="507.80" y="476.44" width="26.80" height="26.64" fill="#f9ebe3"/>
<rect x="534.60" y="476.44" width="26.80" height="26.64" fill="#f8f4f2"/>
<rect x="105.80" y="503.08" width="26.80" height="26.64" fill="#fae9df"/>
<rect x="132.60" y="503.08" width="26.80" height="26.64" fill="#e7f0f4"/>
<rect x="159.40" y="503.08" width="26.80" height="26.64" fill="#dae9f2"/>
<rect x="186.20" y="503.08" width="26.80" height="26.64" fill="#edf2f5"/>
<rect x="534.60" y="503.08" width="26.80" height="26.64" fill="#b6d7e8"/>
<rect x="615.00" y="503.08" width="26.80" height="26.64" fill="#e0ecf3"/>
<rect x="641.80" y="503.08" width="26.80" height="26.64" fill="#eff3f5"/>
<rect x="132.60" y="529.72" width="26.80" height="26.64" fill="#f8bb9e"/>
<rect x="293.40" y="529.72" width="26.80" height="26.64" fill="#e1edf3"/>
<rect x="320.20" y="529.72" width="26.80" height="26.64" fill="#e1edf3"/>
<rect x="347.00" y="529.72" width="26.80" height="26.64" fill="#eaf1f5"/>
<rect x="641.80" y="529.72" width="26.80" height="26.64" fill="#e6eff4"/>
</g>
<g stroke="#808080" stroke-opacity="0.5" stroke-width="1.25" stroke-dasharray="4.44 1.92" fill="none">
<line x1="83.47" y1="556.45" x2="83.47" y2="49.90"/>
<line x1="226.41" y1="556.45" x2="226.41" y2="49.90"/>
<line x1="369.35" y1="556.45" x2="369.35" y2="49.90"/>
<line x1="512.29" y1="556.45" x2="512.29" y2="49.90"/>
<line x1="655.23" y1="556.45" x2="655.23" y2="49.90"/>
<line x1="79.00" y1="491.09" x2="669.10" y2="491.09"/>
<line x1="79.00" y1="348.21" x2="669.10" y2="348.21"/>
<line x1="79.00" y1="205.33" x2="669.10" y2="205.33"/>
<line x1="79.00" y1="62.45" x2="669.10" y2="62.45"/>
</g>
<g stroke="#2e2e2e" stroke-width="2.30" fill="none" stroke-linecap="butt">
<line x1="213.0" y1="316.6" x2="239.8" y2="290.0"/>
<line x1="213.0" y1="343.3" x2="239.8" y2="316.6"/>
<line x1="266.6" y1="369.9" x2="293.4" y2="343.3"/>
<line x1="427.4" y1="316.6" x2="454.2" y2="290.0"/>
<line x1="454.2" y1="316.6" x2="481.0" y2="290.0"/>
<line x1="588.2" y1="263.3" x2="615.0" y2="236.7"/>
<line x1="615.0" y1="263.3" x2="641.8" y2="236.7"/>
<line x1="641.8" y1="263.3" x2="668.6" y2="236.7"/>
<line x1="266.6" y1="423.2" x2="293.4" y2="396.5"/>
<line x1="320.2" y1="449.8" x2="347.0" y2="423.2"/>
<line x1="159.4" y1="476.4" x2="186.2" y2="449.8"/>
<line x1="186.2" y1="529.7" x2="213.0" y2="503.1"/>
<line x1="213.0" y1="503.1" x2="239.8" y2="476.4"/>
<line x1="454.2" y1="423.2" x2="481.0" y2="396.5"/>
<line x1="615.0" y1="423.2" x2="641.8" y2="396.5"/>
<line x1="615.0" y1="449.8" x2="641.8" y2="423.2"/>
<line x1="641.8" y1="423.2" x2="668.6" y2="396.5"/>
<line x1="373.8" y1="449.8" x2="400.6" y2="423.2"/>
<line x1="400.6" y1="449.8" x2="427.4" y2="423.2"/>
<line x1="481.0" y1="449.8" x2="507.8" y2="423.2"/>
<line x1="641.8" y1="503.1" x2="668.6" y2="476.4"/>
<line x1="641.8" y1="76.9" x2="668.6" y2="50.2"/>
</g>
<g stroke="#000" stroke-width="2.40" fill="none" stroke-linejoin="round" stroke-linecap="butt">
<path d="M573.6 50.5 L555.9 59.5 L532.3 58.5 L501.1 64.9 L437.9 93.2 L376.1 141.4 L348.6 155.8 L311.5 167.6 L297.7 176.9 L302.2 208.9 L308.1 225.4 L307.3 224.0 L327.5 232.4 L346.0 229.1 L373.0 213.9 L373.0 213.1 L384.8 221.5 L395.8 241.7 L407.6 258.6 L411.8 271.2 L427.8 270.4 L436.2 259.4 L453.1 260.6 L461.5 247.6 L466.6 224.0 L481.7 219.8 L492.7 208.0 L482.2 220.2 L495.2 204.4 L482.6 196.3 L471.3 185.8 L481.7 165.9 L512.1 153.3 L532.3 142.8 L530.1 133.1 L544.1 123.0 L568.5 119.1 L588.8 125.9 L590.0 131.8 L582.0 134.3 L549.2 149.1 L534.8 159.2 L527.8 168.1 L534.8 181.1 L531.5 194.6 L544.9 198.8 L554.2 207.2 L575.3 204.2 L604.0 198.8 L627.6 197.5 L642.7 204.7 L626.7 212.3 L612.4 212.8 L597.2 210.6 L560.1 216.2 L561.8 224.9 L561.5 224.9 L570.2 229.6 L575.8 228.6 L571.9 248.0 L559.8 248.0 L548.3 237.5 L534.8 242.6 L528.1 251.0 L527.2 260.3 L530.6 274.1 L510.4 278.8 L507.9 285.0 L494.0 285.0 L492.7 281.3 L478.4 278.8 L440.4 289.8 L428.6 294.5 L421.9 290.6 L405.0 284.7 L396.6 288.1 L384.0 290.6 L383.1 286.4 L368.8 282.6 L367.4 275.6 L364.4 269.7 L374.4 259.7 L379.1 260.9 L382.6 255.8 L375.6 253.8 L373.2 249.7 L377.6 243.8 L378.2 237.4 L365.6 241.5 L360.3 245.0 L349.1 246.2 L344.4 250.3 L342.1 255.6 L342.9 267.4 L347.9 276.8 L349.7 285.0 L352.1 289.7 L343.5 297.3 L340.1 294.5 L327.5 295.7 L324.1 298.2 L312.3 299.0 L293.8 304.1 L281.1 325.1 L274.4 328.1 L249.9 334.4 L245.7 346.7 L212.0 357.5 L199.0 351.7 L203.6 367.6 L179.1 363.9 L160.9 367.2 L162.3 376.8 L179.1 382.4 L184.2 383.2 L194.3 389.6 L209.5 405.1 L207.5 433.7 L199.4 442.2 L180.8 441.3 L164.0 442.2 L147.1 440.2 L130.3 440.2 L112.6 437.1 L92.3 447.6 L98.2 454.0 L97.9 464.9 L99.1 468.1 L101.6 479.1 L96.5 495.9 L91.8 500.1 L90.1 508.2 L94.0 514.5 L100.8 516.2 L101.6 525.4 L99.1 535.9 L109.2 534.7 L114.2 536.4 L119.8 532.5 L133.3 534.7 L137.8 542.3 L142.9 547.0 L148.8 548.7 L157.2 542.3 L164.0 538.9 L196.0 538.6 L206.1 528.0 L216.2 525.1 L219.6 516.2 L228.0 508.6 L222.6 501.0 L226.3 490.9 L238.1 476.2 L255.8 473.5 L270.2 464.4 L269.3 464.1 L268.5 455.7 L271.0 446.4 L292.1 442.2 L319.9 445.9 L334.2 438.0 L339.3 437.1 L347.7 430.4 L353.6 428.4 L362.9 432.1 L373.0 434.6 L375.5 448.1 L389.9 459.0 L403.3 468.0 L408.4 472.3 L420.2 474.5 L426.9 479.9 L436.2 483.3 L441.3 489.2 L447.2 491.7 L456.8 506.6 L453.1 511.1 L450.5 521.2 L456.4 520.0 L465.4 507.7 L470.4 506.9 L472.1 499.3 L462.3 493.4 L467.4 485.3 L474.1 485.0 L484.3 489.2 L488.5 493.9 L490.2 489.2 L485.9 483.3 L472.5 475.7 L453.9 469.0 L458.1 465.6 L453.9 463.9 L443.8 463.9 L440.4 460.7 L426.9 450.6 L420.2 439.6 L413.5 436.3 L406.7 432.9 L401.7 426.2 L403.3 421.9 L402.5 413.5 L414.3 408.8 L426.6 411.0 L421.9 413.5 L422.2 418.6 L426.9 421.9 L430.3 416.6 L439.6 418.2 L440.4 423.6 L446.3 429.5 L443.8 431.2 L453.9 440.5 L467.4 444.7 L480.9 451.4 L491.0 455.7 L498.6 460.7 L506.2 466.6 L502.8 474.0 L503.6 483.3 L507.0 489.2 L512.1 493.4 L514.6 499.3 L528.9 516.2 L534.8 532.2 L538.2 537.2 L549.2 542.3 L557.6 540.6 L552.5 530.5 L561.0 528.0 L557.6 521.7 L570.2 524.6 L569.4 517.0 L561.8 513.6 L555.9 506.0 L560.1 502.7 L550.8 489.2 L552.5 485.0 L562.6 490.9 L575.3 489.2 L566.9 483.3 L571.1 479.9 L582.9 477.9 L598.1 479.6 L603.1 488.3 L621.7 477.4 L639.7 475.8 L641.5 472.3 L628.2 467.4 L622.1 455.0 L628.4 467.2 L622.4 453.5 L627.7 443.7 L635.2 437.7 L637.2 428.6 L638.2 421.3 L649.9 419.0 L665.6 398.3 L670.0 394.5"/>
<path d="M668.8 474.4 L645.0 473.2 L638.8 484.1 L615.9 485.9 L600.9 498.2 L610.2 505.8 L602.6 516.8 L612.3 522.9 L621.2 537.9 L637.1 538.3 L651.2 546.2 L660.9 544.1 L663.5 539.7 L668.8 538.8"/>
<path d="M154.7 224.5 L167.3 225.7 L183.9 224.5 L169.0 240.0 L179.1 238.3 L198.5 238.3 L194.3 250.1 L182.2 262.8 L196.8 263.6 L211.2 281.3 L220.4 284.7 L230.6 303.2 L230.6 304.0 L250.8 309.1 L249.9 317.5 L242.4 322.6 L247.4 328.5 L234.8 337.2 L215.4 336.9 L190.1 340.8 L183.4 338.2 L174.4 344.5 L164.0 343.6 L151.3 349.0 L144.1 346.2 L164.8 331.0 L178.3 328.0 L154.7 324.7 L151.3 319.2 L165.7 315.0 L158.1 306.5 L161.4 298.1 L182.2 299.8 L184.2 290.9 L174.1 282.2 L157.2 279.6 L153.9 275.4 L158.9 268.7 L154.7 265.3 L146.6 272.1 L145.4 258.6 L138.7 251.0 L143.7 235.8Z"/>
<path d="M88.1 292.3 L118.5 275.1 L129.4 274.1 L145.4 283.0 L137.8 294.0 L140.4 303.2 L140.4 304.0 L130.3 315.3 L104.1 324.2 L83.9 321.7 L94.9 306.9Z"/>
<path d="M383.1 266.2 L403.3 261.1 L407.6 267.8 L399.6 279.6 L385.6 272.1Z"/>
<path d="M361.2 448.1 L363.7 459.9 L362.9 463.1 L357.8 472.3 L351.1 468.1 L348.6 459.7 L348.6 459.9 L351.1 454.0Z"/>
<path d="M357.8 472.3 L343.5 477.9 L347.7 491.7 L346.9 502.7 L352.4 506.9 L358.7 502.2 L365.4 503.2 L367.6 484.1Z"/>
<path d="M405.9 517.8 L423.6 518.7 L448.9 516.2 L443.0 527.5 L445.5 531.3 L442.1 539.8 L404.2 524.6Z"/>
<path d="M203.6 555.4 L211.2 551.6 L224.7 549.9 L234.8 544.0 L247.4 539.8 L268.5 536.9 L294.6 535.5 L302.2 538.1 L315.7 533.0 L330.9 532.7 L337.6 535.9 L347.7 534.7 L362.9 529.1 L373.0 530.8 L374.7 537.2 L384.8 533.0 L378.9 542.3 L379.7 550.7 L384.0 554.9"/>
<path d="M138.7 557.5 L142.1 552.4 L152.2 552.4 L158.9 557.5"/>
<path d="M562.6 556.6 L566.9 552.4 L571.9 556.6"/>
<path d="M649.1 51.1 L668.0 53.9"/>
<path d="M668.5 56.5 L654.4 59.8 L668.5 66.4"/>
</g>
</g>
<rect x="79.00" y="49.90" width="590.10" height="506.55" fill="none" stroke="#000" stroke-width="3.6"/>
<text x="374.4" y="26.0" font-size="33.6" text-anchor="middle">Ensemble mean</text>
<text x="12.0" y="33.9" font-size="27.8">a)</text>
<text x="83.6" y="595.2" font-size="23.9" text-anchor="middle">10°W</text>
<text x="226.5" y="595.2" font-size="23.9" text-anchor="middle">0°</text>
<text x="369.5" y="595.2" font-size="23.9" text-anchor="middle">10°E</text>
<text x="512.4" y="595.2" font-size="23.9" text-anchor="middle">20°E</text>
<text x="655.3" y="595.2" font-size="23.9" text-anchor="middle">30°E</text>
<text x="59.1" y="497.8" font-size="23.9" text-anchor="end">40°N</text>
<text x="59.1" y="354.9" font-size="23.9" text-anchor="end">50°N</text>
<text x="59.1" y="212.0" font-size="23.9" text-anchor="end">60°N</text>
<text x="59.1" y="69.2" font-size="23.9" text-anchor="end">70°N</text>
<rect x="706.00" y="55.00" width="24.20" height="495.90" fill="url(#cb)" stroke="#000" stroke-width="3.3"/>
<line x1="730.20" y1="55.00" x2="744.60" y2="55.00" stroke="#000" stroke-width="3.6"/>
<text x="758.7" y="66.6" font-size="27.8">1.5</text>
<line x1="730.20" y1="137.65" x2="744.60" y2="137.65" stroke="#000" stroke-width="3.6"/>
<text x="758.7" y="149.2" font-size="27.8">1.0</text>
<line x1="730.20" y1="220.30" x2="744.60" y2="220.30" stroke="#000" stroke-width="3.6"/>
<text x="758.7" y="231.9" font-size="27.8">0.5</text>
<line x1="730.20" y1="302.95" x2="744.60" y2="302.95" stroke="#000" stroke-width="3.6"/>
<text x="758.7" y="314.5" font-size="27.8">0.0</text>
<line x1="730.20" y1="385.60" x2="744.60" y2="385.60" stroke="#000" stroke-width="3.6"/>
<text x="758.7" y="397.2" font-size="27.8">−0.5</text>
<line x1="730.20" y1="468.25" x2="744.60" y2="468.25" stroke="#000" stroke-width="3.6"/>
<text x="758.7" y="479.9" font-size="27.8">−1.0</text>
<line x1="730.20" y1="550.90" x2="744.60" y2="550.90" stroke="#000" stroke-width="3.6"/>
<text x="758.7" y="562.5" font-size="27.8">−1.5</text>
<text transform="translate(862.00,362.80) rotate(-90)" font-size="28.00" text-anchor="middle"><tspan x="3.25" y="0">(</tspan><tspan x="18.80" y="-7.20" font-size="18.00" stroke="none">°</tspan><tspan x="39.55" y="0">C</tspan><tspan x="51.15" y="0"> </tspan><tspan x="62.75" y="0">/</tspan><tspan x="70.22" y="0"> </tspan><tspan x="77.70" y="-7.20" font-size="18.00" stroke="none">°</tspan><tspan x="98.30" y="0">C</tspan><tspan x="113.20" y="0">)</tspan></text>
</g>
<g transform="translate(884.7,0)">
<rect x="79.00" y="49.90" width="590.10" height="506.55" fill="#f6f6f6"/>
<g clip-path="url(#clip)">
<g>
<rect x="481.00" y="50.25" width="27.50" height="27.34" fill="#fbe4d6"/>
<rect x="507.80" y="50.25" width="27.50" height="27.34" fill="#fce2d2"/>
<rect x="534.60" y="50.25" width="27.50" height="27.34" fill="#fac8af"/>
<rect x="561.40" y="50.25" width="27.50" height="27.34" fill="#fbccb4"/>
<rect x="588.20" y="50.25" width="27.50" height="27.34" fill="#fdd9c4"/>
<rect x="615.00" y="50.25" width="27.50" height="27.34" fill="#f9c6ac"/>
<rect x="641.80" y="50.25" width="26.80" height="27.34" fill="#f9ebe3"/>
<rect x="454.20" y="76.89" width="27.50" height="27.34" fill="#f2a17f"/>
<rect x="481.00" y="76.89" width="27.50" height="27.34" fill="#e37e64"/>
<rect x="507.80" y="76.89" width="27.50" height="27.34" fill="#ee9677"/>
<rect x="534.60" y="76.89" width="27.50" height="27.34" fill="#f5a886"/>
<rect x="561.40" y="76.89" width="27.50" height="27.34" fill="#f8bb9e"/>
<rect x="588.20" y="76.89" width="27.50" height="27.34" fill="#f6af8e"/>
<rect x="615.00" y="76.89" width="27.50" height="27.34" fill="#f8bb9e"/>
<rect x="641.80" y="76.89" width="26.80" height="27.34" fill="#f9c2a7"/>
<rect x="400.60" y="103.52" width="27.50" height="27.34" fill="#fac8af"/>
<rect x="427.40" y="103.52" width="27.50" height="27.34" fill="#ec9374"/>
<rect x="454.20" y="103.52" width="27.50" height="27.34" fill="#e8896c"/>
<rect x="481.00" y="103.52" width="27.50" height="27.34" fill="#f2a17f"/>
<rect x="507.80" y="103.52" width="27.50" height="27.34" fill="#ea8e70"/>
<rect x="534.60" y="103.52" width="27.50" height="26.64" fill="#f5a886"/>
<rect x="561.40" y="103.52" width="27.50" height="27.34" fill="#f5ac8b"/>
<rect x="588.20" y="103.52" width="27.50" height="27.34" fill="#f2a17f"/>
<rect x="615.00" y="103.52" width="27.50" height="27.34" fill="#f3a481"/>
<rect x="641.80" y="103.52" width="26.80" height="27.34" fill="#f5aa89"/>
<rect x="373.80" y="130.16" width="27.50" height="27.34" fill="#fdd9c4"/>
<rect x="400.60" y="130.16" width="27.50" height="27.34" fill="#ef9979"/>
<rect x="427.40" y="130.16" width="27.50" height="27.34" fill="#f5a886"/>
<rect x="454.20" y="130.16" width="27.50" height="27.34" fill="#f8bb9e"/>
<rect x="481.00" y="130.16" width="27.50" height="26.64" fill="#f9c6ac"/>
<rect x="561.40" y="130.16" width="27.50" height="27.34" fill="#fcdfcf"/>
<rect x="588.20" y="130.16" width="27.50" height="27.34" fill="#fbccb4"/>
<rect x="615.00" y="130.16" width="27.50" height="27.34" fill="#f9c4a9"/>
<rect x="641.80" y="130.16" width="26.80" height="27.34" fill="#fbd0b9"/>
<rect x="320.20" y="156.80" width="27.50" height="27.34" fill="#f8bfa4"/>
<rect x="347.00" y="156.80" width="27.50" height="27.34" fill="#f5a886"/>
<rect x="373.80" y="156.80" width="27.50" height="27.34" fill="#f9c2a7"/>
<rect x="400.60" y="156.80" width="27.50" height="27.34" fill="#fcd3bc"/>
<rect x="427.40" y="156.80" width="27.50" height="27.34" fill="#fddcc9"/>
<rect x="454.20" y="156.80" width="26.80" height="27.34" fill="#fbe5d8"/>
<rect x="534.60" y="156.80" width="27.50" height="27.34" fill="#fbe6da"/>
<rect x="561.40" y="156.80" width="27.50" height="27.34" fill="#fce0d0"/>
<rect x="588.20" y="156.80" width="27.50" height="27.34" fill="#fddcc9"/>
<rect x="615.00" y="156.80" width="27.50" height="27.34" fill="#fddcc9"/>
<rect x="641.80" y="156.80" width="26.80" height="27.34" fill="#fdd9c4"/>
<rect x="293.40" y="183.44" width="27.50" height="26.64" fill="#f7b799"/>
<rect x="320.20" y="183.44" width="27.50" height="27.34" fill="#ee9677"/>
<rect x="347.00" y="183.44" width="27.50" height="27.34" fill="#f5a886"/>
<rect x="373.80" y="183.44" width="27.50" height="27.34" fill="#f3a481"/>
<rect x="400.60" y="183.44" width="27.50" height="27.34" fill="#f8bfa4"/>
<rect x="427.40" y="183.44" width="27.50" height="27.34" fill="#fcd3bc"/>
<rect x="454.20" y="183.44" width="26.80" height="27.34" fill="#fbe6da"/>
<rect x="534.60" y="183.44" width="27.50" height="26.64" fill="#fdddcb"/>
<rect x="561.40" y="183.44" width="27.50" height="26.64" fill="#fdddcb"/>
<rect x="588.20" y="183.44" width="27.50" height="27.34" fill="#fdd9c4"/>
<rect x="615.00" y="183.44" width="27.50" height="27.34" fill="#fbe3d4"/>
<rect x="641.80" y="183.44" width="26.80" height="27.34" fill="#fbe4d6"/>
<rect x="320.20" y="210.07" width="27.50" height="26.64" fill="#de735c"/>
<rect x="347.00" y="210.07" width="27.50" height="27.34" fill="#ee9677"/>
<rect x="373.80" y="210.07" width="27.50" height="26.64" fill="#f19e7d"/>
<rect x="400.60" y="210.07" width="27.50" height="27.34" fill="#f6b191"/>
<rect x="427.40" y="210.07" width="27.50" height="27.34" fill="#fcd3bc"/>
<rect x="454.20" y="210.07" width="26.80" height="27.34" fill="#f9f0eb"/>
<rect x="588.20" y="210.07" width="27.50" height="27.34" fill="#fae7dc"/>
<rect x="615.00" y="210.07" width="27.50" height="27.34" fill="#faeae1"/>
<rect x="641.80" y="210.07" width="26.80" height="27.34" fill="#fce2d2"/>
<rect x="132.60" y="236.71" width="27.50" height="26.64" fill="#f8bfa4"/>
<rect x="159.40" y="236.71" width="26.80" height="27.34" fill="#f8bb9e"/>
<rect x="347.00" y="236.71" width="26.80" height="27.34" fill="#f19e7d"/>
<rect x="400.60" y="236.71" width="27.50" height="26.64" fill="#f5a886"/>
<rect x="427.40" y="236.71" width="27.50" height="26.64" fill="#fcd3bc"/>
<rect x="534.60" y="236.71" width="27.50" height="27.34" fill="#fae8de"/>
<rect x="561.40" y="236.71" width="27.50" height="27.34" fill="#fae9df"/>
<rect x="588.20" y="236.71" width="27.50" height="27.34" fill="#fbe4d6"/>
<rect x="615.00" y="236.71" width="27.50" height="27.34" fill="#faeae1"/>
<rect x="641.80" y="236.71" width="26.80" height="27.34" fill="#f9eee7"/>
<rect x="159.40" y="263.35" width="27.50" height="27.34" fill="#f5ac8b"/>
<rect x="186.20" y="263.35" width="26.80" height="27.34" fill="#fdd9c4"/>
<rect x="347.00" y="263.35" width="27.50" height="27.34" fill="#f8bda1"/>
<rect x="373.80" y="263.35" width="26.80" height="27.34" fill="#facab1"/>
<rect x="507.80" y="263.35" width="27.50" height="27.34" fill="#fdddcb"/>
<rect x="534.60" y="263.35" width="27.50" height="27.34" fill="#fbe5d8"/>
<rect x="561.40" y="263.35" width="27.50" height="27.34" fill="#f9ebe3"/>
<rect x="588.20" y="263.35" width="27.50" height="27.34" fill="#f9efe9"/>
<rect x="615.00" y="263.35" width="27.50" height="27.34" fill="#f9f0eb"/>
<rect x="641.80" y="263.35" width="26.80" height="27.34" fill="#f8f1ed"/>
<rect x="79.00" y="289.98" width="27.50" height="26.64" fill="#c6413e"/>
<rect x="159.40" y="289.98" width="27.50" height="27.34" fill="#f5a886"/>
<rect x="186.20" y="289.98" width="27.50" height="27.34" fill="#f8bfa4"/>
<rect x="213.00" y="289.98" width="26.80" height="27.34" fill="#f9ebe3"/>
<rect x="320.20" y="289.98" width="27.50" height="27.34" fill="#f9c2a7"/>
<rect x="347.00" y="289.98" width="27.50" height="27.34" fill="#f7b596"/>
<rect x="373.80" y="289.98" width="27.50" height="27.34" fill="#f4a683"/>
<rect x="400.60" y="289.98" width="27.50" height="27.34" fill="#f9c2a7"/>
<rect x="427.40" y="289.98" width="27.50" height="27.34" fill="#fac8af"/>
<rect x="454.20" y="289.98" width="27.50" height="27.34" fill="#fac8af"/>
<rect x="481.00" y="289.98" width="27.50" height="27.34" fill="#fddbc7"/>
<rect x="507.80" y="289.98" width="27.50" height="27.34" fill="#fdddcb"/>
<rect x="534.60" y="289.98" width="27.50" height="27.34" fill="#fbe4d6"/>
<rect x="561.40" y="289.98" width="27.50" height="27.34" fill="#f9ebe3"/>
<rect x="588.20" y="289.98" width="27.50" height="27.34" fill="#f8f3f0"/>
<rect x="615.00" y="289.98" width="27.50" height="27.34" fill="#f7f5f4"/>
<rect x="641.80" y="289.98" width="26.80" height="27.34" fill="#edf2f5"/>
<rect x="159.40" y="316.62" width="27.50" height="26.64" fill="#f2a17f"/>
<rect x="186.20" y="316.62" width="27.50" height="26.64" fill="#fdddcb"/>
<rect x="213.00" y="316.62" width="27.50" height="26.64" fill="#fae9df"/>
<rect x="239.80" y="316.62" width="26.80" height="27.34" fill="#f7f6f6"/>
<rect x="293.40" y="316.62" width="27.50" height="27.34" fill="#f9c6ac"/>
<rect x="320.20" y="316.62" width="27.50" height="27.34" fill="#f8bda1"/>
<rect x="347.00" y="316.62" width="27.50" height="27.34" fill="#f5aa89"/>
<rect x="373.80" y="316.62" width="27.50" height="27.34" fill="#ec9374"/>
<rect x="400.60" y="316.62" width="27.50" height="27.34" fill="#eb9172"/>
<rect x="427.40" y="316.62" width="27.50" height="27.34" fill="#eb9172"/>
<rect x="454.20" y="316.62" width="27.50" height="27.34" fill="#eb9172"/>
<rect x="481.00" y="316.62" width="27.50" height="27.34" fill="#f2a17f"/>
<rect x="507.80" y="316.62" width="27.50" height="27.34" fill="#f5aa89"/>
<rect x="534.60" y="316.62" width="27.50" height="27.34" fill="#fdd9c4"/>
<rect x="561.40" y="316.62" width="27.50" height="27.34" fill="#fbe4d6"/>
<rect x="588.20" y="316.62" width="27.50" height="27.34" fill="#f7f6f6"/>
<rect x="615.00" y="316.62" width="27.50" height="27.34" fill="#e0ecf3"/>
<rect x="641.80" y="316.62" width="26.80" height="27.34" fill="#e6eff4"/>
<rect x="239.80" y="343.26" width="27.50" height="27.34" fill="#f8bb9e"/>
<rect x="266.60" y="343.26" width="27.50" height="27.34" fill="#fddcc9"/>
<rect x="293.40" y="343.26" width="27.50" height="27.34" fill="#fddbc7"/>
<rect x="320.20" y="343.26" width="27.50" height="27.34" fill="#f8bfa4"/>
<rect x="347.00" y="343.26" width="27.50" height="27.34" fill="#f19e7d"/>
<rect x="373.80" y="343.26" width="27.50" height="27.34" fill="#de735c"/>
<rect x="400.60" y="343.26" width="27.50" height="27.34" fill="#d05548"/>
<rect x="427.40" y="343.26" width="27.50" height="27.34" fill="#c94741"/>
<rect x="454.20" y="343.26" width="27.50" height="27.34" fill="#e6866a"/>
<rect x="481.00" y="343.26" width="27.50" height="27.34" fill="#f5aa89"/>
<rect x="507.80" y="343.26" width="27.50" height="27.34" fill="#f6b394"/>
<rect x="534.60" y="343.26" width="27.50" height="27.34" fill="#fddbc7"/>
<rect x="561.40" y="343.26" width="27.50" height="27.34" fill="#fbe5d8"/>
<rect x="588.20" y="343.26" width="27.50" height="27.34" fill="#f9efe9"/>
<rect x="615.00" y="343.26" width="27.50" height="27.34" fill="#f7f5f4"/>
<rect x="641.80" y="343.26" width="26.80" height="27.34" fill="#f9eee7"/>
<rect x="186.20" y="369.89" width="27.50" height="26.64" fill="#f5aa89"/>
<rect x="213.00" y="369.89" width="27.50" height="27.34" fill="#ee9677"/>
<rect x="239.80" y="369.89" width="27.50" height="27.34" fill="#f8bb9e"/>
<rect x="266.60" y="369.89" width="27.50" height="27.34" fill="#fcdfcf"/>
<rect x="293.40" y="369.89" width="27.50" height="27.34" fill="#fdd9c4"/>
<rect x="320.20" y="369.89" width="27.50" height="27.34" fill="#f8bfa4"/>
<rect x="347.00" y="369.89" width="27.50" height="27.34" fill="#f7b799"/>
<rect x="373.80" y="369.89" width="27.50" height="27.34" fill="#f5a886"/>
<rect x="400.60" y="369.89" width="27.50" height="27.34" fill="#e48066"/>
<rect x="427.40" y="369.89" width="27.50" height="27.34" fill="#9f1228"/>
<rect x="454.20" y="369.89" width="27.50" height="27.34" fill="#f6af8e"/>
<rect x="481.00" y="369.89" width="27.50" height="27.34" fill="#fddbc7"/>
<rect x="507.80" y="369.89" width="27.50" height="27.34" fill="#fbceb7"/>
<rect x="534.60" y="369.89" width="27.50" height="27.34" fill="#f9c4a9"/>
<rect x="561.40" y="369.89" width="27.50" height="27.34" fill="#fddbc7"/>
<rect x="588.20" y="369.89" width="27.50" height="27.34" fill="#fddbc7"/>
<rect x="615.00" y="369.89" width="27.50" height="27.34" fill="#fbe6da"/>
<rect x="641.80" y="369.89" width="26.80" height="27.34" fill="#f9f0eb"/>
<rect x="213.00" y="396.53" width="27.50" height="27.34" fill="#f6b394"/>
<rect x="239.80" y="396.53" width="27.50" height="27.34" fill="#f5aa89"/>
<rect x="266.60" y="396.53" width="27.50" height="27.34" fill="#fcdecd"/>
<rect x="293.40" y="396.53" width="27.50" height="27.34" fill="#fcdecd"/>
<rect x="320.20" y="396.53" width="27.50" height="27.34" fill="#f7b799"/>
<rect x="347.00" y="396.53" width="27.50" height="26.64" fill="#dc6e57"/>
<rect x="373.80" y="396.53" width="27.50" height="27.34" fill="#c6413e"/>
<rect x="400.60" y="396.53" width="27.50" height="27.34" fill="#dd7059"/>
<rect x="427.40" y="396.53" width="27.50" height="27.34" fill="#e8896c"/>
<rect x="454.20" y="396.53" width="27.50" height="27.34" fill="#fbe3d4"/>
<rect x="481.00" y="396.53" width="27.50" height="27.34" fill="#f9ebe3"/>
<rect x="507.80" y="396.53" width="27.50" height="27.34" fill="#fddbc7"/>
<rect x="534.60" y="396.53" width="27.50" height="27.34" fill="#f3a481"/>
<rect x="561.40" y="396.53" width="27.50" height="27.34" fill="#f9c6ac"/>
<rect x="588.20" y="396.53" width="27.50" height="27.34" fill="#fdd9c4"/>
<rect x="615.00" y="396.53" width="27.50" height="27.34" fill="#f7f6f6"/>
<rect x="213.00" y="423.17" width="27.50" height="27.34" fill="#f8bfa4"/>
<rect x="239.80" y="423.17" width="27.50" height="27.34" fill="#fdddcb"/>
<rect x="266.60" y="423.17" width="27.50" height="26.64" fill="#f6b394"/>
<rect x="293.40" y="423.17" width="27.50" height="26.64" fill="#fdd9c4"/>
<rect x="373.80" y="423.17" width="27.50" height="26.64" fill="#cce2ef"/>
<rect x="400.60" y="423.17" width="27.50" height="27.34" fill="#f0f4f6"/>
<rect x="427.40" y="423.17" width="27.50" height="27.34" fill="#f9eee7"/>
<rect x="454.20" y="423.17" width="27.50" height="26.64" fill="#f9c4a9"/>
<rect x="481.00" y="423.17" width="27.50" height="27.34" fill="#c2383a"/>
<rect x="507.80" y="423.17" width="27.50" height="27.34" fill="#be3036"/>
<rect x="534.60" y="423.17" width="27.50" height="27.34" fill="#ba2832"/>
<rect x="561.40" y="423.17" width="27.50" height="27.34" fill="#e48066"/>
<rect x="588.20" y="423.17" width="27.50" height="27.34" fill="#f7f6f6"/>
<rect x="105.80" y="449.81" width="27.50" height="27.34" fill="#e48066"/>
<rect x="132.60" y="449.81" width="27.50" height="27.34" fill="#ec9374"/>
<rect x="159.40" y="449.81" width="27.50" height="27.34" fill="#f9c6ac"/>
<rect x="186.20" y="449.81" width="27.50" height="27.34" fill="#f8f3f0"/>
<rect x="213.00" y="449.81" width="27.50" height="27.34" fill="#ddebf2"/>
<rect x="400.60" y="449.81" width="27.50" height="26.64" fill="#9dcbe1"/>
<rect x="481.00" y="449.81" width="27.50" height="26.64" fill="#d6604d"/>
<rect x="507.80" y="449.81" width="27.50" height="27.34" fill="#cb4942"/>
<rect x="534.60" y="449.81" width="27.50" height="27.34" fill="#be3036"/>
<rect x="561.40" y="449.81" width="27.50" height="26.64" fill="#fdddcb"/>
<rect x="105.80" y="476.44" width="27.50" height="27.34" fill="#fbe4d6"/>
<rect x="132.60" y="476.44" width="27.50" height="27.34" fill="#d7e8f1"/>
<rect x="159.40" y="476.44" width="27.50" height="27.34" fill="#5ca3cb"/>
<rect x="186.20" y="476.44" width="27.50" height="27.34" fill="#6bacd1"/>
<rect x="507.80" y="476.44" width="27.50" height="26.64" fill="#f5f6f7"/>
<rect x="534.60" y="476.44" width="26.80" height="27.34" fill="#e0ecf3"/>
<rect x="641.80" y="476.44" width="26.80" height="27.34" fill="#f8f1ed"/>
<rect x="105.80" y="503.08" width="27.50" height="26.64" fill="#f8f1ed"/>
<rect x="132.60" y="503.08" width="27.50" height="27.34" fill="#d2e6f0"/>
<rect x="159.40" y="503.08" width="27.50" height="26.64" fill="#acd2e5"/>
<rect x="615.00" y="503.08" width="27.50" height="26.64" fill="#dbeaf2"/>
<rect x="641.80" y="503.08" width="26.80" height="27.34" fill="#f8f1ed"/>
<rect x="293.40" y="529.72" width="27.50" height="26.64" fill="#dbeaf2"/>
<rect x="320.20" y="529.72" width="27.50" height="26.64" fill="#dbeaf2"/>
<rect x="481.00" y="50.25" width="26.80" height="26.64" fill="#fbe4d6"/>
<rect x="507.80" y="50.25" width="26.80" height="26.64" fill="#fce2d2"/>
<rect x="534.60" y="50.25" width="26.80" height="26.64" fill="#fac8af"/>
<rect x="561.40" y="50.25" width="26.80" height="26.64" fill="#fbccb4"/>
<rect x="588.20" y="50.25" width="26.80" height="26.64" fill="#fdd9c4"/>
<rect x="615.00" y="50.25" width="26.80" height="26.64" fill="#f9c6ac"/>
<rect x="641.80" y="50.25" width="26.80" height="26.64" fill="#f9ebe3"/>
<rect x="454.20" y="76.89" width="26.80" height="26.64" fill="#f2a17f"/>
<rect x="481.00" y="76.89" width="26.80" height="26.64" fill="#e37e64"/>
<rect x="507.80" y="76.89" width="26.80" height="26.64" fill="#ee9677"/>
<rect x="534.60" y="76.89" width="26.80" height="26.64" fill="#f5a886"/>
<rect x="561.40" y="76.89" width="26.80" height="26.64" fill="#f8bb9e"/>
<rect x="588.20" y="76.89" width="26.80" height="26.64" fill="#f6af8e"/>
<rect x="615.00" y="76.89" width="26.80" height="26.64" fill="#f8bb9e"/>
<rect x="641.80" y="76.89" width="26.80" height="26.64" fill="#f9c2a7"/>
<rect x="400.60" y="103.52" width="26.80" height="26.64" fill="#fac8af"/>
<rect x="427.40" y="103.52" width="26.80" height="26.64" fill="#ec9374"/>
<rect x="454.20" y="103.52" width="26.80" height="26.64" fill="#e8896c"/>
<rect x="481.00" y="103.52" width="26.80" height="26.64" fill="#f2a17f"/>
<rect x="507.80" y="103.52" width="26.80" height="26.64" fill="#ea8e70"/>
<rect x="534.60" y="103.52" width="26.80" height="26.64" fill="#f5a886"/>
<rect x="561.40" y="103.52" width="26.80" height="26.64" fill="#f5ac8b"/>
<rect x="588.20" y="103.52" width="26.80" height="26.64" fill="#f2a17f"/>
<rect x="615.00" y="103.52" width="26.80" height="26.64" fill="#f3a481"/>
<rect x="641.80" y="103.52" width="26.80" height="26.64" fill="#f5aa89"/>
<rect x="373.80" y="130.16" width="26.80" height="26.64" fill="#fdd9c4"/>
<rect x="400.60" y="130.16" width="26.80" height="26.64" fill="#ef9979"/>
<rect x="427.40" y="130.16" width="26.80" height="26.64" fill="#f5a886"/>
<rect x="454.20" y="130.16" width="26.80" height="26.64" fill="#f8bb9e"/>
<rect x="481.00" y="130.16" width="26.80" height="26.64" fill="#f9c6ac"/>
<rect x="507.80" y="130.16" width="26.80" height="26.64" fill="#fdd9c4"/>
<rect x="561.40" y="130.16" width="26.80" height="26.64" fill="#fcdfcf"/>
<rect x="588.20" y="130.16" width="26.80" height="26.64" fill="#fbccb4"/>
<rect x="615.00" y="130.16" width="26.80" height="26.64" fill="#f9c4a9"/>
<rect x="641.80" y="130.16" width="26.80" height="26.64" fill="#fbd0b9"/>
<rect x="320.20" y="156.80" width="26.80" height="26.64" fill="#f8bfa4"/>
<rect x="347.00" y="156.80" width="26.80" height="26.64" fill="#f5a886"/>
<rect x="373.80" y="156.80" width="26.80" height="26.64" fill="#f9c2a7"/>
<rect x="400.60" y="156.80" width="26.80" height="26.64" fill="#fcd3bc"/>
<rect x="427.40" y="156.80" width="26.80" height="26.64" fill="#fddcc9"/>
<rect x="454.20" y="156.80" width="26.80" height="26.64" fill="#fbe5d8"/>
<rect x="534.60" y="156.80" width="26.80" height="26.64" fill="#fbe6da"/>
<rect x="561.40" y="156.80" width="26.80" height="26.64" fill="#fce0d0"/>
<rect x="588.20" y="156.80" width="26.80" height="26.64" fill="#fddcc9"/>
<rect x="615.00" y="156.80" width="26.80" height="26.64" fill="#fddcc9"/>
<rect x="641.80" y="156.80" width="26.80" height="26.64" fill="#fdd9c4"/>
<rect x="293.40" y="183.44" width="26.80" height="26.64" fill="#f7b799"/>
<rect x="320.20" y="183.44" width="26.80" height="26.64" fill="#ee9677"/>
<rect x="347.00" y="183.44" width="26.80" height="26.64" fill="#f5a886"/>
<rect x="373.80" y="183.44" width="26.80" height="26.64" fill="#f3a481"/>
<rect x="400.60" y="183.44" width="26.80" height="26.64" fill="#f8bfa4"/>
<rect x="427.40" y="183.44" width="26.80" height="26.64" fill="#fcd3bc"/>
<rect x="454.20" y="183.44" width="26.80" height="26.64" fill="#fbe6da"/>
<rect x="534.60" y="183.44" width="26.80" height="26.64" fill="#fdddcb"/>
<rect x="561.40" y="183.44" width="26.80" height="26.64" fill="#fdddcb"/>
<rect x="588.20" y="183.44" width="26.80" height="26.64" fill="#fdd9c4"/>
<rect x="615.00" y="183.44" width="26.80" height="26.64" fill="#fbe3d4"/>
<rect x="641.80" y="183.44" width="26.80" height="26.64" fill="#fbe4d6"/>
<rect x="320.20" y="210.07" width="26.80" height="26.64" fill="#de735c"/>
<rect x="347.00" y="210.07" width="26.80" height="26.64" fill="#ee9677"/>
<rect x="373.80" y="210.07" width="26.80" height="26.64" fill="#f19e7d"/>
<rect x="400.60" y="210.07" width="26.80" height="26.64" fill="#f6b191"/>
<rect x="427.40" y="210.07" width="26.80" height="26.64" fill="#fcd3bc"/>
<rect x="454.20" y="210.07" width="26.80" height="26.64" fill="#f9f0eb"/>
<rect x="588.20" y="210.07" width="26.80" height="26.64" fill="#fae7dc"/>
<rect x="615.00" y="210.07" width="26.80" height="26.64" fill="#faeae1"/>
<rect x="641.80" y="210.07" width="26.80" height="26.64" fill="#fce2d2"/>
<rect x="132.60" y="236.71" width="26.80" height="26.64" fill="#f8bfa4"/>
<rect x="159.40" y="236.71" width="26.80" height="26.64" fill="#f8bb9e"/>
<rect x="347.00" y="236.71" width="26.80" height="26.64" fill="#f19e7d"/>
<rect x="400.60" y="236.71" width="26.80" height="26.64" fill="#f5a886"/>
<rect x="427.40" y="236.71" width="26.80" height="26.64" fill="#fcd3bc"/>
<rect x="454.20" y="236.71" width="26.80" height="26.64" fill="#f7f6f6"/>
<rect x="534.60" y="236.71" width="26.80" height="26.64" fill="#fae8de"/>
<rect x="561.40" y="236.71" width="26.80" height="26.64" fill="#fae9df"/>
<rect x="588.20" y="236.71" width="26.80" height="26.64" fill="#fbe4d6"/>
<rect x="615.00" y="236.71" width="26.80" height="26.64" fill="#faeae1"/>
<rect x="641.80" y="236.71" width="26.80" height="26.64" fill="#f9eee7"/>
<rect x="159.40" y="263.35" width="26.80" height="26.64" fill="#f5ac8b"/>
<rect x="186.20" y="263.35" width="26.80" height="26.64" fill="#fdd9c4"/>
<rect x="347.00" y="263.35" width="26.80" height="26.64" fill="#f8bda1"/>
<rect x="373.80" y="263.35" width="26.80" height="26.64" fill="#facab1"/>
<rect x="507.80" y="263.35" width="26.80" height="26.64" fill="#fdddcb"/>
<rect x="534.60" y="263.35" width="26.80" height="26.64" fill="#fbe5d8"/>
<rect x="561.40" y="263.35" width="26.80" height="26.64" fill="#f9ebe3"/>
<rect x="588.20" y="263.35" width="26.80" height="26.64" fill="#f9efe9"/>
<rect x="615.00" y="263.35" width="26.80" height="26.64" fill="#f9f0eb"/>
<rect x="641.80" y="263.35" width="26.80" height="26.64" fill="#f8f1ed"/>
<rect x="79.00" y="289.98" width="26.80" height="26.64" fill="#c6413e"/>
<rect x="105.80" y="289.98" width="26.80" height="26.64" fill="#bf3338"/>
<rect x="159.40" y="289.98" width="26.80" height="26.64" fill="#f5a886"/>
<rect x="186.20" y="289.98" width="26.80" height="26.64" fill="#f8bfa4"/>
<rect x="213.00" y="289.98" width="26.80" height="26.64" fill="#f9ebe3"/>
<rect x="320.20" y="289.98" width="26.80" height="26.64" fill="#f9c2a7"/>
<rect x="347.00" y="289.98" width="26.80" height="26.64" fill="#f7b596"/>
<rect x="373.80" y="289.98" width="26.80" height="26.64" fill="#f4a683"/>
<rect x="400.60" y="289.98" width="26.80" height="26.64" fill="#f9c2a7"/>
<rect x="427.40" y="289.98" width="26.80" height="26.64" fill="#fac8af"/>
<rect x="454.20" y="289.98" width="26.80" height="26.64" fill="#fac8af"/>
<rect x="481.00" y="289.98" width="26.80" height="26.64" fill="#fddbc7"/>
<rect x="507.80" y="289.98" width="26.80" height="26.64" fill="#fdddcb"/>
<rect x="534.60" y="289.98" width="26.80" height="26.64" fill="#fbe4d6"/>
<rect x="561.40" y="289.98" width="26.80" height="26.64" fill="#f9ebe3"/>
<rect x="588.20" y="289.98" width="26.80" height="26.64" fill="#f8f3f0"/>
<rect x="615.00" y="289.98" width="26.80" height="26.64" fill="#f7f5f4"/>
<rect x="641.80" y="289.98" width="26.80" height="26.64" fill="#edf2f5"/>
<rect x="159.40" y="316.62" width="26.80" height="26.64" fill="#f2a17f"/>
<rect x="186.20" y="316.62" width="26.80" height="26.64" fill="#fdddcb"/>
<rect x="213.00" y="316.62" width="26.80" height="26.64" fill="#fae9df"/>
<rect x="239.80" y="316.62" width="26.80" height="26.64" fill="#f7f6f6"/>
<rect x="293.40" y="316.62" width="26.80" height="26.64" fill="#f9c6ac"/>
<rect x="320.20" y="316.62" width="26.80" height="26.64" fill="#f8bda1"/>
<rect x="347.00" y="316.62" width="26.80" height="26.64" fill="#f5aa89"/>
<rect x="373.80" y="316.62" width="26.80" height="26.64" fill="#ec9374"/>
<rect x="400.60" y="316.62" width="26.80" height="26.64" fill="#eb9172"/>
<rect x="427.40" y="316.62" width="26.80" height="26.64" fill="#eb9172"/>
<rect x="454.20" y="316.62" width="26.80" height="26.64" fill="#eb9172"/>
<rect x="481.00" y="316.62" width="26.80" height="26.64" fill="#f2a17f"/>
<rect x="507.80" y="316.62" width="26.80" height="26.64" fill="#f5aa89"/>
<rect x="534.60" y="316.62" width="26.80" height="26.64" fill="#fdd9c4"/>
<rect x="561.40" y="316.62" width="26.80" height="26.64" fill="#fbe4d6"/>
<rect x="588.20" y="316.62" width="26.80" height="26.64" fill="#f7f6f6"/>
<rect x="615.00" y="316.62" width="26.80" height="26.64" fill="#e0ecf3"/>
<rect x="641.80" y="316.62" width="26.80" height="26.64" fill="#e6eff4"/>
<rect x="239.80" y="343.26" width="26.80" height="26.64" fill="#f8bb9e"/>
<rect x="266.60" y="343.26" width="26.80" height="26.64" fill="#fddcc9"/>
<rect x="293.40" y="343.26" width="26.80" height="26.64" fill="#fddbc7"/>
<rect x="320.20" y="343.26" width="26.80" height="26.64" fill="#f8bfa4"/>
<rect x="347.00" y="343.26" width="26.80" height="26.64" fill="#f19e7d"/>
<rect x="373.80" y="343.26" width="26.80" height="26.64" fill="#de735c"/>
<rect x="400.60" y="343.26" width="26.80" height="26.64" fill="#d05548"/>
<rect x="427.40" y="343.26" width="26.80" height="26.64" fill="#c94741"/>
<rect x="454.20" y="343.26" width="26.80" height="26.64" fill="#e6866a"/>
<rect x="481.00" y="343.26" width="26.80" height="26.64" fill="#f5aa89"/>
<rect x="507.80" y="343.26" width="26.80" height="26.64" fill="#f6b394"/>
<rect x="534.60" y="343.26" width="26.80" height="26.64" fill="#fddbc7"/>
<rect x="561.40" y="343.26" width="26.80" height="26.64" fill="#fbe5d8"/>
<rect x="588.20" y="343.26" width="26.80" height="26.64" fill="#f9efe9"/>
<rect x="615.00" y="343.26" width="26.80" height="26.64" fill="#f7f5f4"/>
<rect x="641.80" y="343.26" width="26.80" height="26.64" fill="#f9eee7"/>
<rect x="186.20" y="369.89" width="26.80" height="26.64" fill="#f5aa89"/>
<rect x="213.00" y="369.89" width="26.80" height="26.64" fill="#ee9677"/>
<rect x="239.80" y="369.89" width="26.80" height="26.64" fill="#f8bb9e"/>
<rect x="266.60" y="369.89" width="26.80" height="26.64" fill="#fcdfcf"/>
<rect x="293.40" y="369.89" width="26.80" height="26.64" fill="#fdd9c4"/>
<rect x="320.20" y="369.89" width="26.80" height="26.64" fill="#f8bfa4"/>
<rect x="347.00" y="369.89" width="26.80" height="26.64" fill="#f7b799"/>
<rect x="373.80" y="369.89" width="26.80" height="26.64" fill="#f5a886"/>
<rect x="400.60" y="369.89" width="26.80" height="26.64" fill="#e48066"/>
<rect x="427.40" y="369.89" width="26.80" height="26.64" fill="#9f1228"/>
<rect x="454.20" y="369.89" width="26.80" height="26.64" fill="#f6af8e"/>
<rect x="481.00" y="369.89" width="26.80" height="26.64" fill="#fddbc7"/>
<rect x="507.80" y="369.89" width="26.80" height="26.64" fill="#fbceb7"/>
<rect x="534.60" y="369.89" width="26.80" height="26.64" fill="#f9c4a9"/>
<rect x="561.40" y="369.89" width="26.80" height="26.64" fill="#fddbc7"/>
<rect x="588.20" y="369.89" width="26.80" height="26.64" fill="#fddbc7"/>
<rect x="615.00" y="369.89" width="26.80" height="26.64" fill="#fbe6da"/>
<rect x="641.80" y="369.89" width="26.80" height="26.64" fill="#f9f0eb"/>
<rect x="213.00" y="396.53" width="26.80" height="26.64" fill="#f6b394"/>
<rect x="239.80" y="396.53" width="26.80" height="26.64" fill="#f5aa89"/>
<rect x="266.60" y="396.53" width="26.80" height="26.64" fill="#fcdecd"/>
<rect x="293.40" y="396.53" width="26.80" height="26.64" fill="#fcdecd"/>
<rect x="320.20" y="396.53" width="26.80" height="26.64" fill="#f7b799"/>
<rect x="347.00" y="396.53" width="26.80" height="26.64" fill="#dc6e57"/>
<rect x="373.80" y="396.53" width="26.80" height="26.64" fill="#c6413e"/>
<rect x="400.60" y="396.53" width="26.80" height="26.64" fill="#dd7059"/>
<rect x="427.40" y="396.53" width="26.80" height="26.64" fill="#e8896c"/>
<rect x="454.20" y="396.53" width="26.80" height="26.64" fill="#fbe3d4"/>
<rect x="481.00" y="396.53" width="26.80" height="26.64" fill="#f9ebe3"/>
<rect x="507.80" y="396.53" width="26.80" height="26.64" fill="#fddbc7"/>
<rect x="534.60" y="396.53" width="26.80" height="26.64" fill="#f3a481"/>
<rect x="561.40" y="396.53" width="26.80" height="26.64" fill="#f9c6ac"/>
<rect x="588.20" y="396.53" width="26.80" height="26.64" fill="#fdd9c4"/>
<rect x="615.00" y="396.53" width="26.80" height="26.64" fill="#f7f6f6"/>
<rect x="641.80" y="396.53" width="26.80" height="26.64" fill="#f0f4f6"/>
<rect x="213.00" y="423.17" width="26.80" height="26.64" fill="#f8bfa4"/>
<rect x="239.80" y="423.17" width="26.80" height="26.64" fill="#fdddcb"/>
<rect x="266.60" y="423.17" width="26.80" height="26.64" fill="#f6b394"/>
<rect x="293.40" y="423.17" width="26.80" height="26.64" fill="#fdd9c4"/>
<rect x="320.20" y="423.17" width="26.80" height="26.64" fill="#f3a481"/>
<rect x="373.80" y="423.17" width="26.80" height="26.64" fill="#cce2ef"/>
<rect x="400.60" y="423.17" width="26.80" height="26.64" fill="#f0f4f6"/>
<rect x="427.40" y="423.17" width="26.80" height="26.64" fill="#f9eee7"/>
<rect x="454.20" y="423.17" width="26.80" height="26.64" fill="#f9c4a9"/>
<rect x="481.00" y="423.17" width="26.80" height="26.64" fill="#c2383a"/>
<rect x="507.80" y="423.17" width="26.80" height="26.64" fill="#be3036"/>
<rect x="534.60" y="423.17" width="26.80" height="26.64" fill="#ba2832"/>
<rect x="561.40" y="423.17" width="26.80" height="26.64" fill="#e48066"/>
<rect x="588.20" y="423.17" width="26.80" height="26.64" fill="#f7f6f6"/>
<rect x="615.00" y="423.17" width="26.80" height="26.64" fill="#e3edf3"/>
<rect x="105.80" y="449.81" width="26.80" height="26.64" fill="#e48066"/>
<rect x="132.60" y="449.81" width="26.80" height="26.64" fill="#ec9374"/>
<rect x="159.40" y="449.81" width="26.80" height="26.64" fill="#f9c6ac"/>
<rect x="186.20" y="449.81" width="26.80" height="26.64" fill="#f8f3f0"/>
<rect x="213.00" y="449.81" width="26.80" height="26.64" fill="#ddebf2"/>
<rect x="239.80" y="449.81" width="26.80" height="26.64" fill="#aed3e6"/>
<rect x="400.60" y="449.81" width="26.80" height="26.64" fill="#9dcbe1"/>
<rect x="427.40" y="449.81" width="26.80" height="26.64" fill="#cce2ef"/>
<rect x="481.00" y="449.81" width="26.80" height="26.64" fill="#d6604d"/>
<rect x="507.80" y="449.81" width="26.80" height="26.64" fill="#cb4942"/>
<rect x="534.60" y="449.81" width="26.80" height="26.64" fill="#be3036"/>
<rect x="561.40" y="449.81" width="26.80" height="26.64" fill="#fdddcb"/>
<rect x="588.20" y="449.81" width="26.80" height="26.64" fill="#d4e6f1"/>
<rect x="105.80" y="476.44" width="26.80" height="26.64" fill="#fbe4d6"/>
<rect x="132.60" y="476.44" width="26.80" height="26.64" fill="#d7e8f1"/>
<rect x="159.40" y="476.44" width="26.80" height="26.64" fill="#5ca3cb"/>
<rect x="186.20" y="476.44" width="26.80" height="26.64" fill="#6bacd1"/>
<rect x="213.00" y="476.44" width="26.80" height="26.64" fill="#e7f0f4"/>
<rect x="507.80" y="476.44" width="26.80" height="26.64" fill="#f5f6f7"/>
<rect x="534.60" y="476.44" width="26.80" height="26.64" fill="#e0ecf3"/>
<rect x="641.80" y="476.44" width="26.80" height="26.64" fill="#f8f1ed"/>
<rect x="105.80" y="503.08" width="26.80" height="26.64" fill="#f8f1ed"/>
<rect x="132.60" y="503.08" width="26.80" height="26.64" fill="#d2e6f0"/>
<rect x="159.40" y="503.08" width="26.80" height="26.64" fill="#acd2e5"/>
<rect x="186.20" y="503.08" width="26.80" height="26.64" fill="#e1edf3"/>
<rect x="534.60" y="503.08" width="26.80" height="26.64" fill="#84bcd9"/>
<rect x="615.00" y="503.08" width="26.80" height="26.64" fill="#dbeaf2"/>
<rect x="641.80" y="503.08" width="26.80" height="26.64" fill="#f8f1ed"/>
<rect x="132.60" y="529.72" width="26.80" height="26.64" fill="#ee9677"/>
<rect x="293.40" y="529.72" width="26.80" height="26.64" fill="#dbeaf2"/>
<rect x="320.20" y="529.72" width="26.80" height="26.64" fill="#dbeaf2"/>
<rect x="347.00" y="529.72" width="26.80" height="26.64" fill="#eaf1f5"/>
<rect x="641.80" y="529.72" width="26.80" height="26.64" fill="#e6eff4"/>
</g>
<g stroke="#808080" stroke-opacity="0.5" stroke-width="1.25" stroke-dasharray="4.44 1.92" fill="none">
<line x1="83.47" y1="556.45" x2="83.47" y2="49.90"/>
<line x1="226.41" y1="556.45" x2="226.41" y2="49.90"/>
<line x1="369.35" y1="556.45" x2="369.35" y2="49.90"/>
<line x1="512.29" y1="556.45" x2="512.29" y2="49.90"/>
<line x1="655.23" y1="556.45" x2="655.23" y2="49.90"/>
<line x1="79.00" y1="491.09" x2="669.10" y2="491.09"/>
<line x1="79.00" y1="348.21" x2="669.10" y2="348.21"/>
<line x1="79.00" y1="205.33" x2="669.10" y2="205.33"/>
<line x1="79.00" y1="62.45" x2="669.10" y2="62.45"/>
</g>
<g stroke="#2e2e2e" stroke-width="2.30" fill="none" stroke-linecap="butt">
<line x1="641.8" y1="76.9" x2="668.6" y2="50.2"/>
<line x1="347.0" y1="236.7" x2="373.8" y2="210.1"/>
<line x1="373.8" y1="210.1" x2="400.6" y2="183.4"/>
<line x1="400.6" y1="210.1" x2="427.4" y2="183.4"/>
<line x1="373.8" y1="236.7" x2="400.6" y2="210.1"/>
<line x1="615.0" y1="210.1" x2="641.8" y2="183.4"/>
<line x1="186.2" y1="290.0" x2="213.0" y2="263.3"/>
<line x1="186.2" y1="316.6" x2="213.0" y2="290.0"/>
<line x1="213.0" y1="316.6" x2="239.8" y2="290.0"/>
<line x1="373.8" y1="290.0" x2="400.6" y2="263.3"/>
<line x1="534.6" y1="263.3" x2="561.4" y2="236.7"/>
<line x1="534.6" y1="290.0" x2="561.4" y2="263.3"/>
<line x1="561.4" y1="263.3" x2="588.2" y2="236.7"/>
<line x1="561.4" y1="290.0" x2="588.2" y2="263.3"/>
<line x1="588.2" y1="263.3" x2="615.0" y2="236.7"/>
<line x1="400.6" y1="316.6" x2="427.4" y2="290.0"/>
<line x1="186.2" y1="343.3" x2="213.0" y2="316.6"/>
<line x1="213.0" y1="343.3" x2="239.8" y2="316.6"/>
<line x1="239.8" y1="369.9" x2="266.6" y2="343.3"/>
<line x1="239.8" y1="396.5" x2="266.6" y2="369.9"/>
<line x1="266.6" y1="369.9" x2="293.4" y2="343.3"/>
<line x1="293.4" y1="343.3" x2="320.2" y2="316.6"/>
<line x1="266.6" y1="396.5" x2="293.4" y2="369.9"/>
<line x1="293.4" y1="369.9" x2="320.2" y2="343.3"/>
<line x1="641.8" y1="369.9" x2="668.6" y2="343.3"/>
<line x1="615.0" y1="396.5" x2="641.8" y2="369.9"/>
<line x1="641.8" y1="396.5" x2="668.6" y2="369.9"/>
<line x1="266.6" y1="423.2" x2="293.4" y2="396.5"/>
<line x1="293.4" y1="449.8" x2="320.2" y2="423.2"/>
<line x1="320.2" y1="449.8" x2="347.0" y2="423.2"/>
<line x1="132.6" y1="476.4" x2="159.4" y2="449.8"/>
<line x1="159.4" y1="476.4" x2="186.2" y2="449.8"/>
<line x1="186.2" y1="476.4" x2="213.0" y2="449.8"/>
<line x1="615.0" y1="423.2" x2="641.8" y2="396.5"/>
<line x1="641.8" y1="423.2" x2="668.6" y2="396.5"/>
<line x1="615.0" y1="449.8" x2="641.8" y2="423.2"/>
<line x1="588.2" y1="476.4" x2="615.0" y2="449.8"/>
<line x1="400.6" y1="423.2" x2="427.4" y2="396.5"/>
<line x1="373.8" y1="449.8" x2="400.6" y2="423.2"/>
<line x1="427.4" y1="423.2" x2="454.2" y2="396.5"/>
<line x1="400.6" y1="449.8" x2="427.4" y2="423.2"/>
<line x1="454.2" y1="423.2" x2="481.0" y2="396.5"/>
<line x1="481.0" y1="423.2" x2="507.8" y2="396.5"/>
<line x1="427.4" y1="476.4" x2="454.2" y2="449.8"/>
<line x1="105.8" y1="503.1" x2="132.6" y2="476.4"/>
<line x1="105.8" y1="529.7" x2="132.6" y2="503.1"/>
<line x1="186.2" y1="529.7" x2="213.0" y2="503.1"/>
<line x1="213.0" y1="503.1" x2="239.8" y2="476.4"/>
<line x1="347.0" y1="556.4" x2="373.8" y2="529.7"/>
<line x1="615.0" y1="529.7" x2="641.8" y2="503.1"/>
<line x1="641.8" y1="503.1" x2="668.6" y2="476.4"/>
<line x1="641.8" y1="556.4" x2="668.6" y2="529.7"/>
</g>
<g stroke="#000" stroke-width="2.40" fill="none" stroke-linejoin="round" stroke-linecap="butt">
<path d="M573.6 50.5 L555.9 59.5 L532.3 58.5 L501.1 64.9 L437.9 93.2 L376.1 141.4 L348.6 155.8 L311.5 167.6 L297.7 176.9 L302.2 208.9 L308.1 225.4 L307.3 224.0 L327.5 232.4 L346.0 229.1 L373.0 213.9 L373.0 213.1 L384.8 221.5 L395.8 241.7 L407.6 258.6 L411.8 271.2 L427.8 270.4 L436.2 259.4 L453.1 260.6 L461.5 247.6 L466.6 224.0 L481.7 219.8 L492.7 208.0 L482.2 220.2 L495.2 204.4 L482.6 196.3 L471.3 185.8 L481.7 165.9 L512.1 153.3 L532.3 142.8 L530.1 133.1 L544.1 123.0 L568.5 119.1 L588.8 125.9 L590.0 131.8 L582.0 134.3 L549.2 149.1 L534.8 159.2 L527.8 168.1 L534.8 181.1 L531.5 194.6 L544.9 198.8 L554.2 207.2 L575.3 204.2 L604.0 198.8 L627.6 197.5 L642.7 204.7 L626.7 212.3 L612.4 212.8 L597.2 210.6 L560.1 216.2 L561.8 224.9 L561.5 224.9 L570.2 229.6 L575.8 228.6 L571.9 248.0 L559.8 248.0 L548.3 237.5 L534.8 242.6 L528.1 251.0 L527.2 260.3 L530.6 274.1 L510.4 278.8 L507.9 285.0 L494.0 285.0 L492.7 281.3 L478.4 278.8 L440.4 289.8 L428.6 294.5 L421.9 290.6 L405.0 284.7 L396.6 288.1 L384.0 290.6 L383.1 286.4 L368.8 282.6 L367.4 275.6 L364.4 269.7 L374.4 259.7 L379.1 260.9 L382.6 255.8 L375.6 253.8 L373.2 249.7 L377.6 243.8 L378.2 237.4 L365.6 241.5 L360.3 245.0 L349.1 246.2 L344.4 250.3 L342.1 255.6 L342.9 267.4 L347.9 276.8 L349.7 285.0 L352.1 289.7 L343.5 297.3 L340.1 294.5 L327.5 295.7 L324.1 298.2 L312.3 299.0 L293.8 304.1 L281.1 325.1 L274.4 328.1 L249.9 334.4 L245.7 346.7 L212.0 357.5 L199.0 351.7 L203.6 367.6 L179.1 363.9 L160.9 367.2 L162.3 376.8 L179.1 382.4 L184.2 383.2 L194.3 389.6 L209.5 405.1 L207.5 433.7 L199.4 442.2 L180.8 441.3 L164.0 442.2 L147.1 440.2 L130.3 440.2 L112.6 437.1 L92.3 447.6 L98.2 454.0 L97.9 464.9 L99.1 468.1 L101.6 479.1 L96.5 495.9 L91.8 500.1 L90.1 508.2 L94.0 514.5 L100.8 516.2 L101.6 525.4 L99.1 535.9 L109.2 534.7 L114.2 536.4 L119.8 532.5 L133.3 534.7 L137.8 542.3 L142.9 547.0 L148.8 548.7 L157.2 542.3 L164.0 538.9 L196.0 538.6 L206.1 528.0 L216.2 525.1 L219.6 516.2 L228.0 508.6 L222.6 501.0 L226.3 490.9 L238.1 476.2 L255.8 473.5 L270.2 464.4 L269.3 464.1 L268.5 455.7 L271.0 446.4 L292.1 442.2 L319.9 445.9 L334.2 438.0 L339.3 437.1 L347.7 430.4 L353.6 428.4 L362.9 432.1 L373.0 434.6 L375.5 448.1 L389.9 459.0 L403.3 468.0 L408.4 472.3 L420.2 474.5 L426.9 479.9 L436.2 483.3 L441.3 489.2 L447.2 491.7 L456.8 506.6 L453.1 511.1 L450.5 521.2 L456.4 520.0 L465.4 507.7 L470.4 506.9 L472.1 499.3 L462.3 493.4 L467.4 485.3 L474.1 485.0 L484.3 489.2 L488.5 493.9 L490.2 489.2 L485.9 483.3 L472.5 475.7 L453.9 469.0 L458.1 465.6 L453.9 463.9 L443.8 463.9 L440.4 460.7 L426.9 450.6 L420.2 439.6 L413.5 436.3 L406.7 432.9 L401.7 426.2 L403.3 421.9 L402.5 413.5 L414.3 408.8 L426.6 411.0 L421.9 413.5 L422.2 418.6 L426.9 421.9 L430.3 416.6 L439.6 418.2 L440.4 423.6 L446.3 429.5 L443.8 431.2 L453.9 440.5 L467.4 444.7 L480.9 451.4 L491.0 455.7 L498.6 460.7 L506.2 466.6 L502.8 474.0 L503.6 483.3 L507.0 489.2 L512.1 493.4 L514.6 499.3 L528.9 516.2 L534.8 532.2 L538.2 537.2 L549.2 542.3 L557.6 540.6 L552.5 530.5 L561.0 528.0 L557.6 521.7 L570.2 524.6 L569.4 517.0 L561.8 513.6 L555.9 506.0 L560.1 502.7 L550.8 489.2 L552.5 485.0 L562.6 490.9 L575.3 489.2 L566.9 483.3 L571.1 479.9 L582.9 477.9 L598.1 479.6 L603.1 488.3 L621.7 477.4 L639.7 475.8 L641.5 472.3 L628.2 467.4 L622.1 455.0 L628.4 467.2 L622.4 453.5 L627.7 443.7 L635.2 437.7 L637.2 428.6 L638.2 421.3 L649.9 419.0 L665.6 398.3 L670.0 394.5"/>
<path d="M668.8 474.4 L645.0 473.2 L638.8 484.1 L615.9 485.9 L600.9 498.2 L610.2 505.8 L602.6 516.8 L612.3 522.9 L621.2 537.9 L637.1 538.3 L651.2 546.2 L660.9 544.1 L663.5 539.7 L668.8 538.8"/>
<path d="M154.7 224.5 L167.3 225.7 L183.9 224.5 L169.0 240.0 L179.1 238.3 L198.5 238.3 L194.3 250.1 L182.2 262.8 L196.8 263.6 L211.2 281.3 L220.4 284.7 L230.6 303.2 L230.6 304.0 L250.8 309.1 L249.9 317.5 L242.4 322.6 L247.4 328.5 L234.8 337.2 L215.4 336.9 L190.1 340.8 L183.4 338.2 L174.4 344.5 L164.0 343.6 L151.3 349.0 L144.1 346.2 L164.8 331.0 L178.3 328.0 L154.7 324.7 L151.3 319.2 L165.7 315.0 L158.1 306.5 L161.4 298.1 L182.2 299.8 L184.2 290.9 L174.1 282.2 L157.2 279.6 L153.9 275.4 L158.9 268.7 L154.7 265.3 L146.6 272.1 L145.4 258.6 L138.7 251.0 L143.7 235.8Z"/>
<path d="M88.1 292.3 L118.5 275.1 L129.4 274.1 L145.4 283.0 L137.8 294.0 L140.4 303.2 L140.4 304.0 L130.3 315.3 L104.1 324.2 L83.9 321.7 L94.9 306.9Z"/>
<path d="M383.1 266.2 L403.3 261.1 L407.6 267.8 L399.6 279.6 L385.6 272.1Z"/>
<path d="M361.2 448.1 L363.7 459.9 L362.9 463.1 L357.8 472.3 L351.1 468.1 L348.6 459.7 L348.6 459.9 L351.1 454.0Z"/>
<path d="M357.8 472.3 L343.5 477.9 L347.7 491.7 L346.9 502.7 L352.4 506.9 L358.7 502.2 L365.4 503.2 L367.6 484.1Z"/>
<path d="M405.9 517.8 L423.6 518.7 L448.9 516.2 L443.0 527.5 L445.5 531.3 L442.1 539.8 L404.2 524.6Z"/>
<path d="M203.6 555.4 L211.2 551.6 L224.7 549.9 L234.8 544.0 L247.4 539.8 L268.5 536.9 L294.6 535.5 L302.2 538.1 L315.7 533.0 L330.9 532.7 L337.6 535.9 L347.7 534.7 L362.9 529.1 L373.0 530.8 L374.7 537.2 L384.8 533.0 L378.9 542.3 L379.7 550.7 L384.0 554.9"/>
<path d="M138.7 557.5 L142.1 552.4 L152.2 552.4 L158.9 557.5"/>
<path d="M562.6 556.6 L566.9 552.4 L571.9 556.6"/>
<path d="M649.1 51.1 L668.0 53.9"/>
<path d="M668.5 56.5 L654.4 59.8 L668.5 66.4"/>
</g>
</g>
<rect x="79.00" y="49.90" width="590.10" height="506.55" fill="none" stroke="#000" stroke-width="3.6"/>
<text x="374.4" y="26.0" font-size="33.6" text-anchor="middle">Ensemble spread</text>
<text x="12.0" y="33.9" font-size="27.8">b)</text>
<text x="83.6" y="595.2" font-size="23.9" text-anchor="middle">10°W</text>
<text x="226.5" y="595.2" font-size="23.9" text-anchor="middle">0°</text>
<text x="369.5" y="595.2" font-size="23.9" text-anchor="middle">10°E</text>
<text x="512.4" y="595.2" font-size="23.9" text-anchor="middle">20°E</text>
<text x="655.3" y="595.2" font-size="23.9" text-anchor="middle">30°E</text>
<rect x="706.00" y="55.00" width="24.20" height="495.90" fill="url(#cb)" stroke="#000" stroke-width="3.3"/>
<line x1="730.20" y1="55.00" x2="744.60" y2="55.00" stroke="#000" stroke-width="3.6"/>
<text x="758.7" y="66.6" font-size="27.8">1.5</text>
<line x1="730.20" y1="137.65" x2="744.60" y2="137.65" stroke="#000" stroke-width="3.6"/>
<text x="758.7" y="149.2" font-size="27.8">1.0</text>
<line x1="730.20" y1="220.30" x2="744.60" y2="220.30" stroke="#000" stroke-width="3.6"/>
<text x="758.7" y="231.9" font-size="27.8">0.5</text>
<line x1="730.20" y1="302.95" x2="744.60" y2="302.95" stroke="#000" stroke-width="3.6"/>
<text x="758.7" y="314.5" font-size="27.8">0.0</text>
<line x1="730.20" y1="385.60" x2="744.60" y2="385.60" stroke="#000" stroke-width="3.6"/>
<text x="758.7" y="397.2" font-size="27.8">−0.5</text>
<line x1="730.20" y1="468.25" x2="744.60" y2="468.25" stroke="#000" stroke-width="3.6"/>
<text x="758.7" y="479.9" font-size="27.8">−1.0</text>
<line x1="730.20" y1="550.90" x2="744.60" y2="550.90" stroke="#000" stroke-width="3.6"/>
<text x="758.7" y="562.5" font-size="27.8">−1.5</text>
<text transform="translate(862.00,362.80) rotate(-90)" font-size="28.00" text-anchor="middle"><tspan x="3.25" y="0">(</tspan><tspan x="18.80" y="-7.20" font-size="18.00" stroke="none">°</tspan><tspan x="39.55" y="0">C</tspan><tspan x="51.15" y="0"> </tspan><tspan x="62.75" y="0">/</tspan><tspan x="70.22" y="0"> </tspan><tspan x="77.70" y="-7.20" font-size="18.00" stroke="none">°</tspan><tspan x="98.30" y="0">C</tspan><tspan x="113.20" y="0">)</tspan></text>
</g>
</svg>
</body></html>
